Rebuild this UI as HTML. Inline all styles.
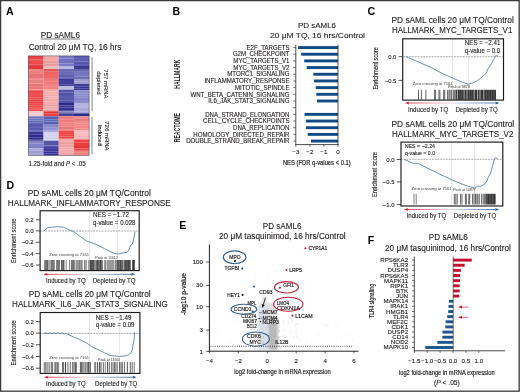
<!DOCTYPE html>
<html><head><meta charset="utf-8"><style>
html,body{margin:0;padding:0;background:#fff;}
svg{display:block;filter:blur(0.35px);}
text{font-family:"Liberation Sans", sans-serif;}
</style></head><body>
<svg width="520" height="392" viewBox="0 0 520 392" font-family='"Liberation Sans", sans-serif' fill="#231f20">
<rect x="0.00" y="0.00" width="520.00" height="392.00" fill="#ffffff"/>
<rect x="0.6" y="0.6" width="518.6" height="390.6" fill="none" stroke="#3a3a3a" stroke-width="1.3"/>
<text x="6.00" y="14.80" font-size="10.6" font-weight="bold" fill="#000">A</text>
<text x="172.60" y="15.00" font-size="10.6" font-weight="bold" fill="#000">B</text>
<text x="367.60" y="15.10" font-size="10.6" font-weight="bold" fill="#000">C</text>
<text x="6.40" y="189.20" font-size="10.6" font-weight="bold" fill="#000">D</text>
<text x="179.30" y="228.70" font-size="10.6" font-weight="bold" fill="#000">E</text>
<text x="367.80" y="243.70" font-size="10.6" font-weight="bold" fill="#000">F</text>
<text x="40.80" y="37.50" font-size="8.2" textLength="39.20" lengthAdjust="spacingAndGlyphs" stroke="#231f20" stroke-width="0.12">PD sAML6</text>
<line x1="40.80" y1="39.00" x2="80.00" y2="39.00" stroke="#231f20" stroke-width="0.6"/>
<text x="28.70" y="50.20" font-size="8.2" textLength="92.70" lengthAdjust="spacingAndGlyphs" stroke="#231f20" stroke-width="0.12">Control 20 μM TQ, 16 hrs</text>
<rect x="28.30" y="55.90" width="15.25" height="3.40" fill="#ec4448"/>
<rect x="28.30" y="59.25" width="15.25" height="1.86" fill="#ed5155"/>
<rect x="28.30" y="61.06" width="15.25" height="3.35" fill="#ed484c"/>
<rect x="28.30" y="64.36" width="15.25" height="1.69" fill="#e14044"/>
<rect x="28.30" y="66.00" width="15.25" height="3.05" fill="#e2393c"/>
<rect x="28.30" y="69.00" width="15.25" height="1.90" fill="#f18282"/>
<rect x="28.30" y="70.85" width="15.25" height="2.40" fill="#f17e7e"/>
<rect x="28.30" y="73.20" width="15.25" height="2.84" fill="#e77575"/>
<rect x="28.30" y="75.99" width="15.25" height="2.06" fill="#e67575"/>
<rect x="28.30" y="78.00" width="15.25" height="1.87" fill="#f28a8a"/>
<rect x="28.30" y="79.82" width="15.25" height="3.39" fill="#e68181"/>
<rect x="28.30" y="83.17" width="15.25" height="0.88" fill="#f28989"/>
<rect x="28.30" y="84.00" width="15.25" height="2.81" fill="#e57474"/>
<rect x="28.30" y="86.76" width="15.25" height="2.78" fill="#eb7878"/>
<rect x="28.30" y="89.49" width="15.25" height="0.86" fill="#f17f7f"/>
<rect x="28.30" y="90.30" width="15.25" height="2.62" fill="#ea4347"/>
<rect x="28.30" y="92.87" width="15.25" height="2.25" fill="#ee5256"/>
<rect x="28.30" y="95.07" width="15.25" height="2.58" fill="#ec474b"/>
<rect x="28.30" y="97.59" width="15.25" height="1.88" fill="#ec464a"/>
<rect x="28.30" y="99.42" width="15.25" height="1.86" fill="#e34044"/>
<rect x="28.30" y="101.23" width="15.25" height="2.61" fill="#eb4347"/>
<rect x="28.30" y="103.79" width="15.25" height="1.94" fill="#ed484c"/>
<rect x="28.30" y="105.68" width="15.25" height="2.11" fill="#ec474b"/>
<rect x="28.30" y="107.74" width="15.25" height="2.08" fill="#ee5256"/>
<rect x="28.30" y="109.77" width="15.25" height="1.58" fill="#ee5356"/>
<rect x="28.30" y="111.30" width="15.25" height="2.08" fill="#f5c9c9"/>
<rect x="28.30" y="113.33" width="15.25" height="1.91" fill="#f4c8c8"/>
<rect x="28.30" y="115.19" width="15.25" height="1.16" fill="#f1c5c5"/>
<rect x="28.30" y="116.30" width="15.25" height="2.10" fill="#6b76be"/>
<rect x="28.30" y="118.35" width="15.25" height="2.10" fill="#6874bd"/>
<rect x="28.30" y="120.39" width="15.25" height="1.92" fill="#5e6ab8"/>
<rect x="28.30" y="122.26" width="15.25" height="1.79" fill="#5d69b6"/>
<rect x="28.30" y="124.00" width="15.25" height="3.16" fill="#5a5aaf"/>
<rect x="28.30" y="127.11" width="15.25" height="3.10" fill="#5a5aaf"/>
<rect x="28.30" y="130.16" width="15.25" height="1.69" fill="#6464b4"/>
<rect x="28.30" y="131.80" width="15.25" height="2.55" fill="#3b3794"/>
<rect x="28.30" y="134.30" width="15.25" height="3.15" fill="#2e2a8c"/>
<rect x="28.30" y="137.41" width="15.25" height="2.05" fill="#2d2a89"/>
<rect x="28.30" y="139.41" width="15.25" height="1.34" fill="#2d2988"/>
<rect x="28.30" y="140.70" width="15.25" height="2.70" fill="#8383c6"/>
<rect x="28.30" y="143.35" width="15.25" height="2.63" fill="#8282c6"/>
<rect x="28.30" y="145.92" width="15.25" height="2.43" fill="#7f7fc4"/>
<rect x="28.30" y="148.30" width="15.25" height="2.40" fill="#a7a7dc"/>
<rect x="28.30" y="150.65" width="15.25" height="3.15" fill="#9d9dd2"/>
<rect x="28.30" y="153.75" width="15.25" height="1.60" fill="#a0a0d6"/>
<rect x="43.50" y="55.90" width="15.25" height="2.10" fill="#f6abab"/>
<rect x="43.50" y="57.95" width="15.25" height="3.00" fill="#f6aaaa"/>
<rect x="43.50" y="60.90" width="15.25" height="2.56" fill="#e99d9d"/>
<rect x="43.50" y="63.41" width="15.25" height="2.64" fill="#e89c9c"/>
<rect x="43.50" y="66.00" width="15.25" height="3.05" fill="#ebc1c1"/>
<rect x="43.50" y="69.00" width="15.25" height="2.66" fill="#e35656"/>
<rect x="43.50" y="71.61" width="15.25" height="3.34" fill="#ef6161"/>
<rect x="43.50" y="74.90" width="15.25" height="3.15" fill="#ef6767"/>
<rect x="43.50" y="78.00" width="15.25" height="1.96" fill="#eb7777"/>
<rect x="43.50" y="79.91" width="15.25" height="1.97" fill="#f07b7b"/>
<rect x="43.50" y="81.82" width="15.25" height="2.17" fill="#f07a7a"/>
<rect x="43.50" y="83.95" width="15.25" height="2.98" fill="#f18484"/>
<rect x="43.50" y="86.87" width="15.25" height="2.18" fill="#f18282"/>
<rect x="43.50" y="89.00" width="15.25" height="2.65" fill="#f6abab"/>
<rect x="43.50" y="91.60" width="15.25" height="2.67" fill="#f4acac"/>
<rect x="43.50" y="94.22" width="15.25" height="2.13" fill="#f4aaaa"/>
<rect x="43.50" y="96.30" width="15.25" height="2.33" fill="#f5adad"/>
<rect x="43.50" y="98.59" width="15.25" height="2.70" fill="#f4a9a9"/>
<rect x="43.50" y="101.24" width="15.25" height="3.09" fill="#f4aaaa"/>
<rect x="43.50" y="104.28" width="15.25" height="2.38" fill="#eaa1a1"/>
<rect x="43.50" y="106.61" width="15.25" height="2.85" fill="#f5afaf"/>
<rect x="43.50" y="109.41" width="15.25" height="1.94" fill="#e8a0a0"/>
<rect x="43.50" y="111.30" width="15.25" height="2.37" fill="#de3737"/>
<rect x="43.50" y="113.62" width="15.25" height="2.73" fill="#ed4242"/>
<rect x="43.50" y="116.30" width="15.25" height="3.06" fill="#5764af"/>
<rect x="43.50" y="119.31" width="15.25" height="2.20" fill="#5b69b6"/>
<rect x="43.50" y="121.46" width="15.25" height="2.59" fill="#5765b1"/>
<rect x="43.50" y="124.00" width="15.25" height="3.17" fill="#8a8acb"/>
<rect x="43.50" y="127.12" width="15.25" height="3.25" fill="#9494d0"/>
<rect x="43.50" y="130.32" width="15.25" height="1.53" fill="#9393d0"/>
<rect x="43.50" y="131.80" width="15.25" height="2.53" fill="#d1d1f1"/>
<rect x="43.50" y="134.28" width="15.25" height="3.21" fill="#d2d2f1"/>
<rect x="43.50" y="137.43" width="15.25" height="2.00" fill="#cbcbeb"/>
<rect x="43.50" y="139.38" width="15.25" height="1.37" fill="#d2d2f1"/>
<rect x="43.50" y="140.70" width="15.25" height="2.29" fill="#5454a7"/>
<rect x="43.50" y="142.94" width="15.25" height="2.45" fill="#5656a9"/>
<rect x="43.50" y="145.34" width="15.25" height="1.71" fill="#5d5db0"/>
<rect x="43.50" y="147.00" width="15.25" height="1.93" fill="#433fa1"/>
<rect x="43.50" y="148.88" width="15.25" height="2.55" fill="#3f3ca0"/>
<rect x="43.50" y="151.39" width="15.25" height="2.11" fill="#332f98"/>
<rect x="43.50" y="153.45" width="15.25" height="1.90" fill="#34309a"/>
<rect x="58.70" y="55.90" width="15.35" height="2.54" fill="#7878c5"/>
<rect x="58.70" y="58.39" width="15.35" height="2.62" fill="#7272c2"/>
<rect x="58.70" y="60.95" width="15.35" height="2.61" fill="#7070bf"/>
<rect x="58.70" y="63.52" width="15.35" height="2.53" fill="#7676c4"/>
<rect x="58.70" y="66.00" width="15.35" height="2.18" fill="#b5b5e3"/>
<rect x="58.70" y="68.13" width="15.35" height="0.92" fill="#b5b5e2"/>
<rect x="58.70" y="69.00" width="15.35" height="2.92" fill="#6868b5"/>
<rect x="58.70" y="71.87" width="15.35" height="3.13" fill="#6a6ab6"/>
<rect x="58.70" y="74.95" width="15.35" height="2.91" fill="#5e5eaa"/>
<rect x="58.70" y="77.81" width="15.35" height="1.24" fill="#6b6bb7"/>
<rect x="58.70" y="79.00" width="15.35" height="1.95" fill="#3b3892"/>
<rect x="58.70" y="80.90" width="15.35" height="3.30" fill="#42409b"/>
<rect x="58.70" y="84.15" width="15.35" height="1.90" fill="#47449d"/>
<rect x="58.70" y="86.00" width="15.35" height="3.75" fill="#bdbde4"/>
<rect x="58.70" y="89.70" width="15.35" height="2.95" fill="#5151a6"/>
<rect x="58.70" y="92.60" width="15.35" height="3.36" fill="#5151a5"/>
<rect x="58.70" y="95.91" width="15.35" height="2.16" fill="#5d5dad"/>
<rect x="58.70" y="98.02" width="15.35" height="2.30" fill="#5555aa"/>
<rect x="58.70" y="100.27" width="15.35" height="2.78" fill="#5151a6"/>
<rect x="58.70" y="103.00" width="15.35" height="2.38" fill="#2e2a8c"/>
<rect x="58.70" y="105.33" width="15.35" height="2.28" fill="#3a3694"/>
<rect x="58.70" y="107.56" width="15.35" height="2.79" fill="#343091"/>
<rect x="58.70" y="110.31" width="15.35" height="1.04" fill="#2e2a8b"/>
<rect x="58.70" y="111.30" width="15.35" height="2.05" fill="#8282c1"/>
<rect x="58.70" y="113.30" width="15.35" height="1.91" fill="#413e98"/>
<rect x="58.70" y="115.16" width="15.35" height="1.19" fill="#373393"/>
<rect x="58.70" y="116.30" width="15.35" height="3.44" fill="#f07c7c"/>
<rect x="58.70" y="119.69" width="15.35" height="2.55" fill="#f07c7c"/>
<rect x="58.70" y="122.18" width="15.35" height="1.96" fill="#f18181"/>
<rect x="58.70" y="124.09" width="15.35" height="2.34" fill="#f18080"/>
<rect x="58.70" y="126.38" width="15.35" height="3.31" fill="#ea7777"/>
<rect x="58.70" y="129.63" width="15.35" height="1.42" fill="#f17f7f"/>
<rect x="58.70" y="131.00" width="15.35" height="3.15" fill="#ef4c4c"/>
<rect x="58.70" y="134.10" width="15.35" height="2.38" fill="#ee4949"/>
<rect x="58.70" y="136.43" width="15.35" height="2.11" fill="#ee4747"/>
<rect x="58.70" y="138.49" width="15.35" height="0.96" fill="#ef5353"/>
<rect x="58.70" y="139.40" width="15.35" height="2.07" fill="#f5a7a7"/>
<rect x="58.70" y="141.42" width="15.35" height="2.84" fill="#ec9f9f"/>
<rect x="58.70" y="144.22" width="15.35" height="3.37" fill="#efa1a1"/>
<rect x="58.70" y="147.53" width="15.35" height="2.11" fill="#f5a6a6"/>
<rect x="58.70" y="149.60" width="15.35" height="2.66" fill="#f6aaaa"/>
<rect x="58.70" y="152.20" width="15.35" height="3.15" fill="#f2a3a3"/>
<rect x="74.00" y="55.90" width="15.15" height="2.98" fill="#5a5ab2"/>
<rect x="74.00" y="58.83" width="15.15" height="2.71" fill="#5b5bb2"/>
<rect x="74.00" y="61.49" width="15.15" height="2.56" fill="#5656af"/>
<rect x="74.00" y="64.00" width="15.15" height="2.05" fill="#5f5fb4"/>
<rect x="74.00" y="66.00" width="15.15" height="3.05" fill="#3b3a8d"/>
<rect x="74.00" y="69.00" width="15.15" height="2.82" fill="#6767b1"/>
<rect x="74.00" y="71.77" width="15.15" height="2.21" fill="#7575be"/>
<rect x="74.00" y="73.93" width="15.15" height="2.40" fill="#7878c0"/>
<rect x="74.00" y="76.29" width="15.15" height="2.76" fill="#6c6cb9"/>
<rect x="74.00" y="79.00" width="15.15" height="2.64" fill="#9b9bcf"/>
<rect x="74.00" y="81.59" width="15.15" height="2.46" fill="#9b9bd0"/>
<rect x="74.00" y="84.00" width="15.15" height="2.32" fill="#404099"/>
<rect x="74.00" y="86.27" width="15.15" height="2.09" fill="#393995"/>
<rect x="74.00" y="88.31" width="15.15" height="2.04" fill="#393995"/>
<rect x="74.00" y="90.30" width="15.15" height="3.12" fill="#9090d0"/>
<rect x="74.00" y="93.37" width="15.15" height="2.42" fill="#8787cb"/>
<rect x="74.00" y="95.74" width="15.15" height="2.13" fill="#8c8cce"/>
<rect x="74.00" y="97.82" width="15.15" height="2.19" fill="#8484c6"/>
<rect x="74.00" y="99.96" width="15.15" height="3.09" fill="#8c8cce"/>
<rect x="74.00" y="103.00" width="15.15" height="3.02" fill="#b3b3e2"/>
<rect x="74.00" y="105.97" width="15.15" height="2.06" fill="#b8b8e4"/>
<rect x="74.00" y="107.98" width="15.15" height="3.37" fill="#a9a9d6"/>
<rect x="74.00" y="111.30" width="15.15" height="2.05" fill="#a4a4da"/>
<rect x="74.00" y="113.30" width="15.15" height="3.05" fill="#2f2b8d"/>
<rect x="74.00" y="116.30" width="15.15" height="2.48" fill="#f48989"/>
<rect x="74.00" y="118.73" width="15.15" height="2.22" fill="#e57a7a"/>
<rect x="74.00" y="120.91" width="15.15" height="2.35" fill="#f48d8d"/>
<rect x="74.00" y="123.21" width="15.15" height="2.04" fill="#f38686"/>
<rect x="74.00" y="125.20" width="15.15" height="3.23" fill="#f38585"/>
<rect x="74.00" y="128.39" width="15.15" height="1.96" fill="#f38585"/>
<rect x="74.00" y="130.30" width="15.15" height="2.37" fill="#f5b7b7"/>
<rect x="74.00" y="132.62" width="15.15" height="3.33" fill="#f6bbbb"/>
<rect x="74.00" y="135.90" width="15.15" height="3.55" fill="#f6b9b9"/>
<rect x="74.00" y="139.40" width="15.15" height="3.31" fill="#ee4848"/>
<rect x="74.00" y="142.66" width="15.15" height="3.40" fill="#ed3e3e"/>
<rect x="74.00" y="146.00" width="15.15" height="2.50" fill="#e63838"/>
<rect x="74.00" y="148.46" width="15.15" height="2.39" fill="#ee4848"/>
<rect x="74.00" y="150.80" width="15.15" height="2.13" fill="#f18585"/>
<rect x="74.00" y="152.88" width="15.15" height="2.47" fill="#f18383"/>
<rect x="28.30" y="55.9" width="60.80" height="99.4" fill="none" stroke="#2a2438" stroke-width="0.6" stroke-opacity="0.75"/>
<line x1="92.10" y1="57.40" x2="92.10" y2="111.30" stroke="#555" stroke-width="0.7"/>
<line x1="92.00" y1="117.00" x2="92.00" y2="154.00" stroke="#555" stroke-width="0.7"/>
<text x="104.30" y="83.90" font-size="6.0" text-anchor="middle" textLength="29.10" lengthAdjust="spacingAndGlyphs" transform="rotate(90 104.30 83.90)" stroke="#231f20" stroke-width="0.12">757 mRNA</text>
<text x="97.00" y="82.90" font-size="6.0" text-anchor="middle" textLength="23.30" lengthAdjust="spacingAndGlyphs" transform="rotate(90 97.00 82.90)" stroke="#231f20" stroke-width="0.12">depleted</text>
<text x="104.50" y="135.90" font-size="6.0" text-anchor="middle" textLength="29.40" lengthAdjust="spacingAndGlyphs" transform="rotate(90 104.50 135.90)" stroke="#231f20" stroke-width="0.12">726 mRNA</text>
<text x="97.70" y="135.40" font-size="6.0" text-anchor="middle" textLength="20.70" lengthAdjust="spacingAndGlyphs" transform="rotate(90 97.70 135.40)" stroke="#231f20" stroke-width="0.12">induced</text>
<text x="28.50" y="165.50" font-size="6.3" textLength="57.10" lengthAdjust="spacingAndGlyphs" stroke="#231f20" stroke-width="0.12">1.25-fold and <tspan font-style="italic">P</tspan> &lt; .05</text>
<text x="317.00" y="28.30" font-size="7.6" text-anchor="middle" textLength="38.10" lengthAdjust="spacingAndGlyphs" stroke="#231f20" stroke-width="0.12">PD sAML6</text>
<text x="270.00" y="38.30" font-size="7.6" textLength="95.00" lengthAdjust="spacingAndGlyphs" stroke="#231f20" stroke-width="0.12">20 μM TQ, 16 hrs/Control</text>
<line x1="293.20" y1="47.55" x2="295.80" y2="47.55" stroke="#231f20" stroke-width="0.6"/>
<rect x="298.10" y="46.10" width="39.90" height="2.90" fill="#124b84"/>
<text x="289.50" y="49.75" font-size="6.7" text-anchor="end" textLength="42.94" lengthAdjust="spacingAndGlyphs" stroke="#231f20" stroke-width="0.12">E2F<tspan dy="-0.8">_</tspan><tspan dy="0.8">TARGETS</tspan></text>
<line x1="293.20" y1="54.23" x2="295.80" y2="54.23" stroke="#231f20" stroke-width="0.6"/>
<rect x="301.20" y="52.78" width="36.80" height="2.90" fill="#124b84"/>
<text x="289.50" y="56.43" font-size="6.7" text-anchor="end" textLength="56.61" lengthAdjust="spacingAndGlyphs" stroke="#231f20" stroke-width="0.12">G2M<tspan dy="-0.8">_</tspan><tspan dy="0.8">CHECKPOINT</tspan></text>
<line x1="293.20" y1="60.91" x2="295.80" y2="60.91" stroke="#231f20" stroke-width="0.6"/>
<rect x="304.20" y="59.46" width="33.80" height="2.90" fill="#124b84"/>
<text x="289.50" y="63.11" font-size="6.7" text-anchor="end" textLength="56.16" lengthAdjust="spacingAndGlyphs" stroke="#231f20" stroke-width="0.12">MYC<tspan dy="-0.8">_</tspan><tspan dy="0.8">TARGETS</tspan><tspan dy="-0.8">_</tspan><tspan dy="0.8">V1</tspan></text>
<line x1="293.20" y1="67.59" x2="295.80" y2="67.59" stroke="#231f20" stroke-width="0.6"/>
<rect x="306.70" y="66.14" width="31.30" height="2.90" fill="#124b84"/>
<text x="289.50" y="69.79" font-size="6.7" text-anchor="end" textLength="56.16" lengthAdjust="spacingAndGlyphs" stroke="#231f20" stroke-width="0.12">MYC<tspan dy="-0.8">_</tspan><tspan dy="0.8">TARGETS</tspan><tspan dy="-0.8">_</tspan><tspan dy="0.8">V2</tspan></text>
<line x1="293.20" y1="74.27" x2="295.80" y2="74.27" stroke="#231f20" stroke-width="0.6"/>
<rect x="313.40" y="72.82" width="24.60" height="2.90" fill="#124b84"/>
<text x="289.50" y="76.47" font-size="6.7" text-anchor="end" textLength="62.26" lengthAdjust="spacingAndGlyphs" stroke="#231f20" stroke-width="0.12">MTORC1<tspan dy="-0.8">_</tspan><tspan dy="0.8">SIGNALING</tspan></text>
<line x1="293.20" y1="80.95" x2="295.80" y2="80.95" stroke="#231f20" stroke-width="0.6"/>
<rect x="313.90" y="79.50" width="24.10" height="2.90" fill="#124b84"/>
<text x="289.50" y="83.15" font-size="6.7" text-anchor="end" textLength="85.08" lengthAdjust="spacingAndGlyphs" stroke="#231f20" stroke-width="0.12">INFLAMMATORY<tspan dy="-0.8">_</tspan><tspan dy="0.8">RESPONSE</tspan></text>
<line x1="293.20" y1="87.63" x2="295.80" y2="87.63" stroke="#231f20" stroke-width="0.6"/>
<rect x="315.70" y="86.18" width="22.30" height="2.90" fill="#124b84"/>
<text x="289.50" y="89.83" font-size="6.7" text-anchor="end" textLength="54.46" lengthAdjust="spacingAndGlyphs" stroke="#231f20" stroke-width="0.12">MITOTIC<tspan dy="-0.8">_</tspan><tspan dy="0.8">SPINDLE</tspan></text>
<line x1="293.20" y1="94.31" x2="295.80" y2="94.31" stroke="#231f20" stroke-width="0.6"/>
<rect x="316.30" y="92.86" width="21.70" height="2.90" fill="#124b84"/>
<text x="289.50" y="96.51" font-size="6.7" text-anchor="end" textLength="99.09" lengthAdjust="spacingAndGlyphs" stroke="#231f20" stroke-width="0.12">WNT<tspan dy="-0.8">_</tspan><tspan dy="0.8">BETA</tspan><tspan dy="-0.8">_</tspan><tspan dy="0.8">CATENIN</tspan><tspan dy="-0.8">_</tspan><tspan dy="0.8">SIGNALING</tspan></text>
<line x1="293.20" y1="100.99" x2="295.80" y2="100.99" stroke="#231f20" stroke-width="0.6"/>
<rect x="317.10" y="99.54" width="20.90" height="2.90" fill="#124b84"/>
<text x="289.50" y="103.19" font-size="6.7" text-anchor="end" textLength="81.14" lengthAdjust="spacingAndGlyphs" stroke="#231f20" stroke-width="0.12">IL6<tspan dy="-0.8">_</tspan><tspan dy="0.8">JAK</tspan><tspan dy="-0.8">_</tspan><tspan dy="0.8">STAT3</tspan><tspan dy="-0.8">_</tspan><tspan dy="0.8">SIGNALING</tspan></text>
<line x1="293.20" y1="107.67" x2="295.80" y2="107.67" stroke="#231f20" stroke-width="0.6"/>
<line x1="293.20" y1="114.35" x2="295.80" y2="114.35" stroke="#231f20" stroke-width="0.6"/>
<rect x="304.50" y="112.90" width="33.50" height="2.90" fill="#124b84"/>
<text x="289.50" y="116.55" font-size="6.7" text-anchor="end" textLength="84.29" lengthAdjust="spacingAndGlyphs" stroke="#231f20" stroke-width="0.12">DNA<tspan dy="-0.8">_</tspan><tspan dy="0.8">STRAND</tspan><tspan dy="-0.8">_</tspan><tspan dy="0.8">ELONGATION</tspan></text>
<line x1="293.20" y1="121.03" x2="295.80" y2="121.03" stroke="#231f20" stroke-width="0.6"/>
<rect x="305.90" y="119.58" width="32.10" height="2.90" fill="#124b84"/>
<text x="289.50" y="123.23" font-size="6.7" text-anchor="end" textLength="86.45" lengthAdjust="spacingAndGlyphs" stroke="#231f20" stroke-width="0.12">CELL<tspan dy="-0.8">_</tspan><tspan dy="0.8">CYCLE</tspan><tspan dy="-0.8">_</tspan><tspan dy="0.8">CHECKPOINTS</tspan></text>
<line x1="293.20" y1="127.71" x2="295.80" y2="127.71" stroke="#231f20" stroke-width="0.6"/>
<rect x="305.90" y="126.26" width="32.10" height="2.90" fill="#124b84"/>
<text x="289.50" y="129.91" font-size="6.7" text-anchor="end" textLength="56.50" lengthAdjust="spacingAndGlyphs" stroke="#231f20" stroke-width="0.12">DNA<tspan dy="-0.8">_</tspan><tspan dy="0.8">REPLICATION</tspan></text>
<line x1="293.20" y1="134.39" x2="295.80" y2="134.39" stroke="#231f20" stroke-width="0.6"/>
<rect x="307.70" y="132.94" width="30.30" height="2.90" fill="#124b84"/>
<text x="289.50" y="136.59" font-size="6.7" text-anchor="end" textLength="96.15" lengthAdjust="spacingAndGlyphs" stroke="#231f20" stroke-width="0.12">HOMOLOGY<tspan dy="-0.8">_</tspan><tspan dy="0.8">DIRECTED</tspan><tspan dy="-0.8">_</tspan><tspan dy="0.8">REPAIR</tspan></text>
<line x1="293.20" y1="141.07" x2="295.80" y2="141.07" stroke="#231f20" stroke-width="0.6"/>
<rect x="311.00" y="139.62" width="27.00" height="2.90" fill="#124b84"/>
<text x="289.50" y="143.27" font-size="6.7" text-anchor="end" textLength="103.28" lengthAdjust="spacingAndGlyphs" stroke="#231f20" stroke-width="0.12">DOUBLE<tspan dy="-0.8">_</tspan><tspan dy="0.8">STRAND</tspan><tspan dy="-0.8">_</tspan><tspan dy="0.8">BREAK</tspan><tspan dy="-0.8">_</tspan><tspan dy="0.8">REPAIR</tspan></text>
<line x1="295.80" y1="44.60" x2="295.80" y2="144.90" stroke="#231f20" stroke-width="0.8"/>
<line x1="338.00" y1="44.60" x2="338.00" y2="144.90" stroke="#231f20" stroke-width="0.8"/>
<line x1="295.40" y1="144.60" x2="338.40" y2="144.60" stroke="#231f20" stroke-width="0.8"/>
<line x1="295.80" y1="144.60" x2="295.80" y2="146.80" stroke="#231f20" stroke-width="0.6"/>
<text x="295.80" y="154.00" font-size="6.2" text-anchor="middle" stroke="#231f20" stroke-width="0.12">−3</text>
<line x1="309.90" y1="144.60" x2="309.90" y2="146.80" stroke="#231f20" stroke-width="0.6"/>
<text x="309.90" y="154.00" font-size="6.2" text-anchor="middle" stroke="#231f20" stroke-width="0.12">−2</text>
<line x1="323.90" y1="144.60" x2="323.90" y2="146.80" stroke="#231f20" stroke-width="0.6"/>
<text x="323.90" y="154.00" font-size="6.2" text-anchor="middle" stroke="#231f20" stroke-width="0.12">−1</text>
<line x1="338.00" y1="144.60" x2="338.00" y2="146.80" stroke="#231f20" stroke-width="0.6"/>
<text x="338.00" y="154.00" font-size="6.2" text-anchor="middle" stroke="#231f20" stroke-width="0.12">0</text>
<text x="316.80" y="165.00" font-size="7.2" text-anchor="middle" textLength="67.80" lengthAdjust="spacingAndGlyphs" stroke="#231f20" stroke-width="0.2">NES (FDR q-values &lt; 0.1)</text>
<text x="180.30" y="74.20" font-size="8.2" text-anchor="middle" font-weight="bold" textLength="29.10" lengthAdjust="spacingAndGlyphs" transform="rotate(-90 180.30 74.20)">HALLMARK</text>
<text x="180.30" y="127.75" font-size="8.2" text-anchor="middle" font-weight="bold" textLength="29.10" lengthAdjust="spacingAndGlyphs" transform="rotate(-90 180.30 127.75)">REACTOME</text>
<text x="391.50" y="23.30" font-size="8.35" textLength="122.30" lengthAdjust="spacingAndGlyphs" stroke="#231f20" stroke-width="0.12">PD sAML cells 20 μM TQ/Control</text>
<text x="392.00" y="33.30" font-size="8.9" textLength="120.30" lengthAdjust="spacingAndGlyphs" stroke="#231f20" stroke-width="0.12">HALLMARK_MYC_TARGETS_V1</text>
<text x="378.30" y="68.30" font-size="7.3" text-anchor="middle" textLength="42.30" lengthAdjust="spacingAndGlyphs" transform="rotate(-90 378.30 68.30)" stroke="#231f20" stroke-width="0.12">Enrichment score</text>
<line x1="402.70" y1="56.70" x2="503.50" y2="56.70" stroke="#444" stroke-width="0.7" stroke-dasharray="0.7 0.85"/>
<line x1="452.50" y1="38.80" x2="452.50" y2="100.10" stroke="#c4cad4" stroke-width="0.5"/>
<line x1="468.70" y1="38.80" x2="468.70" y2="100.10" stroke="#c4cad4" stroke-width="0.5"/>
<rect x="455.50" y="89.80" width="40.50" height="10.00" fill="#383838"/>
<line x1="418.50" y1="89.80" x2="418.50" y2="99.80" stroke="#333" stroke-width="0.75"/>
<line x1="421.40" y1="89.80" x2="421.40" y2="99.80" stroke="#333" stroke-width="0.75"/>
<line x1="425.90" y1="89.80" x2="425.90" y2="99.80" stroke="#333" stroke-width="0.75"/>
<line x1="434.60" y1="89.80" x2="434.60" y2="99.80" stroke="#333" stroke-width="0.75"/>
<line x1="435.60" y1="89.80" x2="435.60" y2="99.80" stroke="#333" stroke-width="0.75"/>
<line x1="438.90" y1="89.80" x2="438.90" y2="99.80" stroke="#333" stroke-width="0.75"/>
<line x1="439.90" y1="89.80" x2="439.90" y2="99.80" stroke="#333" stroke-width="0.75"/>
<line x1="443.70" y1="89.80" x2="443.70" y2="99.80" stroke="#333" stroke-width="0.75"/>
<line x1="444.70" y1="89.80" x2="444.70" y2="99.80" stroke="#333" stroke-width="0.75"/>
<line x1="447.60" y1="89.80" x2="447.60" y2="99.80" stroke="#333" stroke-width="0.75"/>
<line x1="449.00" y1="89.80" x2="449.00" y2="99.80" stroke="#333" stroke-width="0.75"/>
<line x1="450.00" y1="89.80" x2="450.00" y2="99.80" stroke="#333" stroke-width="0.75"/>
<line x1="451.40" y1="89.80" x2="451.40" y2="99.80" stroke="#333" stroke-width="0.75"/>
<line x1="453.30" y1="89.80" x2="453.30" y2="99.80" stroke="#333" stroke-width="0.75"/>
<line x1="454.30" y1="89.80" x2="454.30" y2="99.80" stroke="#333" stroke-width="0.75"/>
<line x1="456.20" y1="89.80" x2="456.20" y2="99.80" stroke="#333" stroke-width="0.75"/>
<line x1="457.70" y1="89.80" x2="457.70" y2="99.80" stroke="#333" stroke-width="0.75"/>
<line x1="459.10" y1="89.80" x2="459.10" y2="99.80" stroke="#333" stroke-width="0.75"/>
<line x1="460.60" y1="89.80" x2="460.60" y2="99.80" stroke="#333" stroke-width="0.75"/>
<line x1="457.40" y1="89.80" x2="457.40" y2="99.80" stroke="#fff" stroke-width="0.6"/>
<line x1="464.10" y1="89.80" x2="464.10" y2="99.80" stroke="#fff" stroke-width="0.6"/>
<line x1="467.00" y1="89.80" x2="467.00" y2="99.80" stroke="#fff" stroke-width="0.6"/>
<line x1="474.20" y1="89.80" x2="474.20" y2="99.80" stroke="#fff" stroke-width="0.6"/>
<line x1="477.60" y1="89.80" x2="477.60" y2="99.80" stroke="#fff" stroke-width="0.6"/>
<line x1="480.00" y1="89.80" x2="480.00" y2="99.80" stroke="#fff" stroke-width="0.6"/>
<line x1="483.80" y1="89.80" x2="483.80" y2="99.80" stroke="#fff" stroke-width="0.6"/>
<line x1="459.80" y1="89.80" x2="459.80" y2="99.80" stroke="#777" stroke-width="0.5"/>
<line x1="461.50" y1="89.80" x2="461.50" y2="99.80" stroke="#777" stroke-width="0.5"/>
<line x1="469.50" y1="89.80" x2="469.50" y2="99.80" stroke="#777" stroke-width="0.5"/>
<line x1="471.80" y1="89.80" x2="471.80" y2="99.80" stroke="#777" stroke-width="0.5"/>
<line x1="486.50" y1="89.80" x2="486.50" y2="99.80" stroke="#777" stroke-width="0.5"/>
<line x1="489.00" y1="89.80" x2="489.00" y2="99.80" stroke="#777" stroke-width="0.5"/>
<line x1="491.50" y1="89.80" x2="491.50" y2="99.80" stroke="#777" stroke-width="0.5"/>
<line x1="494.00" y1="89.80" x2="494.00" y2="99.80" stroke="#777" stroke-width="0.5"/>
<polyline points="406.20,56.70 430.00,67.00 440.00,72.30 452.50,78.10 462.50,82.30 468.10,84.00 472.50,83.10 477.50,80.60 481.30,77.50 484.40,75.00 486.30,73.00 488.10,68.80 491.30,63.80 495.00,56.90 496.30,55.30 498.10,56.30" fill="none" stroke="#4a6f9c" stroke-width="0.8" stroke-linejoin="round"/>
<text x="412.70" y="85.20" font-size="4.1" textLength="40.00" lengthAdjust="spacingAndGlyphs" fill="#3a3a3a" stroke="none">Zero crossing at 7161</text>
<text x="448.00" y="88.40" font-size="4.1" textLength="22.00" lengthAdjust="spacingAndGlyphs" fill="#3a3a3a" stroke="none">Peak at 9878</text>
<text x="464.80" y="45.00" font-size="6.6" textLength="35.60" lengthAdjust="spacingAndGlyphs" stroke="#231f20" stroke-width="0.12">NES = −2.41</text>
<text x="464.80" y="52.80" font-size="6.6" textLength="35.40" lengthAdjust="spacingAndGlyphs" stroke="#231f20" stroke-width="0.12">q-value = 0.0</text>
<rect x="402.70" y="38.80" width="100.80" height="61.30" fill="none" stroke="#1a1a1a" stroke-width="1.15"/>
<line x1="398.50" y1="56.70" x2="402.70" y2="56.70" stroke="#231f20" stroke-width="0.75"/>
<text x="396.30" y="58.80" font-size="5.8" text-anchor="end" stroke="#231f20" stroke-width="0.12">0.0</text>
<line x1="398.50" y1="80.40" x2="402.70" y2="80.40" stroke="#231f20" stroke-width="0.75"/>
<text x="396.30" y="82.50" font-size="5.8" text-anchor="end" stroke="#231f20" stroke-width="0.12">−0.5</text>
<defs><linearGradient id="g1" x1="405.0" y1="0" x2="499.5" y2="0" gradientUnits="userSpaceOnUse"><stop offset="0" stop-color="#d0243a"/><stop offset="0.47" stop-color="#f0d6de"/><stop offset="0.53" stop-color="#c6d2e6"/><stop offset="1" stop-color="#2f5f9b"/></linearGradient></defs>
<rect x="407.00" y="102.55" width="90.50" height="0.9" fill="url(#g1)"/>
<path d="M405.00,103.00 L409.20,101.55 L408.40,103.00 L409.20,104.45 Z" fill="#d0243a"/>
<path d="M499.50,103.00 L495.30,101.55 L496.10,103.00 L495.30,104.45 Z" fill="#2f5f9b"/>
<text x="408.00" y="112.30" font-size="6.6" textLength="40.20" lengthAdjust="spacingAndGlyphs" stroke="#231f20" stroke-width="0.12">Induced by TQ</text>
<text x="455.40" y="112.30" font-size="6.6" textLength="42.30" lengthAdjust="spacingAndGlyphs" stroke="#231f20" stroke-width="0.12">Depleted by TQ</text>
<text x="391.50" y="127.00" font-size="8.35" textLength="122.70" lengthAdjust="spacingAndGlyphs" stroke="#231f20" stroke-width="0.12">PD sAML cells 20 μM TQ/Control</text>
<text x="392.00" y="136.50" font-size="8.9" textLength="121.40" lengthAdjust="spacingAndGlyphs" stroke="#231f20" stroke-width="0.12">HALLMARK_MYC_TARGETS_V2</text>
<text x="377.40" y="174.40" font-size="7.3" text-anchor="middle" textLength="45.00" lengthAdjust="spacingAndGlyphs" transform="rotate(-90 377.40 174.40)" stroke="#231f20" stroke-width="0.12">Enrichment score</text>
<line x1="401.00" y1="159.30" x2="502.80" y2="159.30" stroke="#444" stroke-width="0.7" stroke-dasharray="0.7 0.85"/>
<line x1="451.70" y1="142.10" x2="451.70" y2="206.00" stroke="#c4cad4" stroke-width="0.5"/>
<line x1="474.50" y1="142.10" x2="474.50" y2="206.00" stroke="#c4cad4" stroke-width="0.5"/>
<rect x="485.40" y="193.80" width="10.20" height="10.70" fill="#353535"/>
<line x1="414.00" y1="193.80" x2="414.00" y2="204.50" stroke="#333" stroke-width="0.6"/>
<line x1="416.20" y1="193.80" x2="416.20" y2="204.50" stroke="#333" stroke-width="0.6"/>
<line x1="454.30" y1="193.80" x2="454.30" y2="204.50" stroke="#333" stroke-width="0.75"/>
<line x1="455.80" y1="193.80" x2="455.80" y2="204.50" stroke="#333" stroke-width="0.75"/>
<line x1="457.20" y1="193.80" x2="457.20" y2="204.50" stroke="#333" stroke-width="0.75"/>
<line x1="460.60" y1="193.80" x2="460.60" y2="204.50" stroke="#333" stroke-width="0.75"/>
<line x1="462.00" y1="193.80" x2="462.00" y2="204.50" stroke="#333" stroke-width="0.75"/>
<line x1="465.40" y1="193.80" x2="465.40" y2="204.50" stroke="#333" stroke-width="0.75"/>
<line x1="466.30" y1="193.80" x2="466.30" y2="204.50" stroke="#333" stroke-width="0.75"/>
<line x1="468.80" y1="193.80" x2="468.80" y2="204.50" stroke="#333" stroke-width="0.75"/>
<line x1="469.70" y1="193.80" x2="469.70" y2="204.50" stroke="#333" stroke-width="0.75"/>
<line x1="472.60" y1="193.80" x2="472.60" y2="204.50" stroke="#333" stroke-width="0.75"/>
<line x1="474.00" y1="193.80" x2="474.00" y2="204.50" stroke="#333" stroke-width="0.75"/>
<line x1="475.50" y1="193.80" x2="475.50" y2="204.50" stroke="#333" stroke-width="0.75"/>
<line x1="476.90" y1="193.80" x2="476.90" y2="204.50" stroke="#333" stroke-width="0.75"/>
<line x1="477.90" y1="193.80" x2="477.90" y2="204.50" stroke="#333" stroke-width="0.75"/>
<line x1="479.30" y1="193.80" x2="479.30" y2="204.50" stroke="#333" stroke-width="0.75"/>
<line x1="481.70" y1="193.80" x2="481.70" y2="204.50" stroke="#333" stroke-width="0.75"/>
<line x1="483.20" y1="193.80" x2="483.20" y2="204.50" stroke="#333" stroke-width="0.75"/>
<line x1="484.60" y1="193.80" x2="484.60" y2="204.50" stroke="#333" stroke-width="0.75"/>
<line x1="487.00" y1="193.80" x2="487.00" y2="204.50" stroke="#bbb" stroke-width="0.4"/>
<line x1="489.90" y1="193.80" x2="489.90" y2="204.50" stroke="#bbb" stroke-width="0.4"/>
<line x1="492.80" y1="193.80" x2="492.80" y2="204.50" stroke="#bbb" stroke-width="0.4"/>
<polyline points="404.30,159.50 413.50,163.30 417.30,163.30 419.20,164.00 440.00,174.30 451.90,179.80 462.50,184.30 471.30,187.30 474.40,188.00 477.50,186.40 481.30,186.00 484.40,184.30 486.90,181.00 488.10,177.60 490.00,174.30 491.30,170.80 492.50,165.80 493.50,162.00 494.40,158.90 495.60,157.60 497.50,158.90" fill="none" stroke="#4a6f9c" stroke-width="0.8" stroke-linejoin="round"/>
<text x="411.60" y="189.60" font-size="4.1" textLength="40.00" lengthAdjust="spacingAndGlyphs" fill="#3a3a3a" stroke="none">Zero crossing at 7161</text>
<text x="453.30" y="191.20" font-size="4.1" textLength="22.50" lengthAdjust="spacingAndGlyphs" fill="#3a3a3a" stroke="none">Peak at 10877</text>
<text x="404.80" y="148.40" font-size="5.6" textLength="30.20" lengthAdjust="spacingAndGlyphs" stroke="#231f20" stroke-width="0.12">NES = −2.24</text>
<text x="405.00" y="154.60" font-size="5.6" textLength="30.00" lengthAdjust="spacingAndGlyphs" stroke="#231f20" stroke-width="0.12">q-value = 0.0</text>
<rect x="401.00" y="142.10" width="101.80" height="63.90" fill="none" stroke="#1a1a1a" stroke-width="1.15"/>
<line x1="396.80" y1="159.50" x2="401.00" y2="159.50" stroke="#231f20" stroke-width="0.75"/>
<text x="394.60" y="161.60" font-size="6.0" text-anchor="end" stroke="#231f20" stroke-width="0.12">0.0</text>
<line x1="396.80" y1="181.90" x2="401.00" y2="181.90" stroke="#231f20" stroke-width="0.75"/>
<text x="394.60" y="184.00" font-size="6.0" text-anchor="end" stroke="#231f20" stroke-width="0.12">−0.5</text>
<line x1="396.80" y1="204.50" x2="401.00" y2="204.50" stroke="#231f20" stroke-width="0.75"/>
<text x="394.60" y="206.60" font-size="6.0" text-anchor="end" stroke="#231f20" stroke-width="0.12">−1.0</text>
<defs><linearGradient id="g2" x1="404.0" y1="0" x2="499.2" y2="0" gradientUnits="userSpaceOnUse"><stop offset="0" stop-color="#d0243a"/><stop offset="0.47" stop-color="#f0d6de"/><stop offset="0.53" stop-color="#c6d2e6"/><stop offset="1" stop-color="#2f5f9b"/></linearGradient></defs>
<rect x="406.00" y="209.05" width="91.20" height="0.9" fill="url(#g2)"/>
<path d="M404.00,209.50 L408.20,208.05 L407.40,209.50 L408.20,210.95 Z" fill="#d0243a"/>
<path d="M499.20,209.50 L495.00,208.05 L495.80,209.50 L495.00,210.95 Z" fill="#2f5f9b"/>
<text x="406.70" y="218.30" font-size="6.6" textLength="39.50" lengthAdjust="spacingAndGlyphs" stroke="#231f20" stroke-width="0.12">Induced by TQ</text>
<text x="453.80" y="218.30" font-size="6.6" textLength="42.40" lengthAdjust="spacingAndGlyphs" stroke="#231f20" stroke-width="0.12">Depleted by TQ</text>
<text x="27.70" y="195.80" font-size="8.35" textLength="123.20" lengthAdjust="spacingAndGlyphs" stroke="#231f20" stroke-width="0.12">PD sAML cells 20 μM TQ/Control</text>
<text x="7.80" y="205.60" font-size="8.8" textLength="163.00" lengthAdjust="spacingAndGlyphs" stroke="#231f20" stroke-width="0.12">HALLMARK_INFLAMMATORY_RESPONSE</text>
<text x="16.40" y="240.70" font-size="7.3" text-anchor="middle" textLength="44.50" lengthAdjust="spacingAndGlyphs" transform="rotate(-90 16.40 240.70)" stroke="#231f20" stroke-width="0.12">Enrichment score</text>
<line x1="40.10" y1="231.00" x2="139.20" y2="231.00" stroke="#444" stroke-width="0.7" stroke-dasharray="0.7 0.85"/>
<line x1="89.60" y1="210.75" x2="89.60" y2="270.60" stroke="#c4cad4" stroke-width="0.5"/>
<line x1="117.60" y1="210.75" x2="117.60" y2="270.60" stroke="#c4cad4" stroke-width="0.5"/>
<rect x="44.10" y="260.00" width="3.80" height="10.30" fill="#7a7a7a"/>
<rect x="47.90" y="260.00" width="3.10" height="10.30" fill="#acacac"/>
<rect x="51.80" y="260.00" width="2.90" height="10.30" fill="#777"/>
<rect x="56.10" y="260.00" width="3.90" height="10.30" fill="#7a7a7a"/>
<rect x="61.20" y="260.00" width="3.40" height="10.30" fill="#808080"/>
<rect x="70.80" y="260.00" width="3.20" height="10.30" fill="#777"/>
<rect x="75.40" y="260.00" width="3.80" height="10.30" fill="#9a9a9a"/>
<rect x="80.20" y="260.00" width="2.40" height="10.30" fill="#858585"/>
<rect x="85.00" y="260.00" width="2.10" height="10.30" fill="#aaa"/>
<rect x="88.10" y="260.00" width="1.70" height="10.30" fill="#999"/>
<rect x="89.80" y="260.00" width="4.60" height="10.30" fill="#5a5a5a"/>
<rect x="94.60" y="260.00" width="0.70" height="10.30" fill="#bbb"/>
<rect x="95.30" y="260.00" width="7.50" height="10.30" fill="#6a6a6a"/>
<rect x="104.20" y="260.00" width="2.00" height="10.30" fill="#888"/>
<rect x="106.60" y="260.00" width="3.40" height="10.30" fill="#9a9a9a"/>
<rect x="110.00" y="260.00" width="4.00" height="10.30" fill="#9a9a9a"/>
<rect x="114.60" y="260.00" width="2.30" height="10.30" fill="#888"/>
<rect x="116.90" y="260.00" width="6.70" height="10.30" fill="#6a6a6a"/>
<rect x="124.10" y="260.00" width="6.70" height="10.30" fill="#5a5a5a"/>
<rect x="132.20" y="260.00" width="2.60" height="10.30" fill="#3a3a3a"/>
<line x1="47.20" y1="260.00" x2="47.20" y2="270.30" stroke="#333" stroke-width="0.6"/>
<line x1="51.50" y1="260.00" x2="51.50" y2="270.30" stroke="#333" stroke-width="0.6"/>
<line x1="61.40" y1="260.00" x2="61.40" y2="270.30" stroke="#333" stroke-width="0.6"/>
<line x1="63.40" y1="260.00" x2="63.40" y2="270.30" stroke="#333" stroke-width="0.6"/>
<line x1="66.20" y1="260.00" x2="66.20" y2="270.30" stroke="#333" stroke-width="0.6"/>
<line x1="69.40" y1="260.00" x2="69.40" y2="270.30" stroke="#333" stroke-width="0.6"/>
<line x1="74.40" y1="260.00" x2="74.40" y2="270.30" stroke="#333" stroke-width="0.6"/>
<line x1="79.50" y1="260.00" x2="79.50" y2="270.30" stroke="#333" stroke-width="0.6"/>
<line x1="84.50" y1="260.00" x2="84.50" y2="270.30" stroke="#333" stroke-width="0.6"/>
<line x1="90.80" y1="260.00" x2="90.80" y2="270.30" stroke="#333" stroke-width="0.6"/>
<line x1="94.10" y1="260.00" x2="94.10" y2="270.30" stroke="#333" stroke-width="0.6"/>
<line x1="97.50" y1="260.00" x2="97.50" y2="270.30" stroke="#333" stroke-width="0.6"/>
<line x1="100.50" y1="260.00" x2="100.50" y2="270.30" stroke="#333" stroke-width="0.6"/>
<line x1="118.00" y1="260.00" x2="118.00" y2="270.30" stroke="#333" stroke-width="0.6"/>
<line x1="120.50" y1="260.00" x2="120.50" y2="270.30" stroke="#333" stroke-width="0.6"/>
<line x1="126.00" y1="260.00" x2="126.00" y2="270.30" stroke="#333" stroke-width="0.6"/>
<line x1="128.50" y1="260.00" x2="128.50" y2="270.30" stroke="#333" stroke-width="0.6"/>
<polyline points="44.00,231.00 47.50,227.80 51.50,227.20 57.30,226.70 63.70,227.20 68.80,229.80 73.50,231.50 86.20,240.80 95.00,243.90 104.40,248.60 112.00,252.40 117.60,254.20 121.00,253.30 127.10,252.40 129.00,249.50 130.80,244.80 132.30,244.30 133.20,241.00 134.20,236.30 135.10,231.60" fill="none" stroke="#4a6f9c" stroke-width="0.8" stroke-linejoin="round"/>
<text x="49.20" y="255.60" font-size="4.1" textLength="39.80" lengthAdjust="spacingAndGlyphs" fill="#3a3a3a" stroke="none">Zero crossing at 7161</text>
<text x="95.30" y="258.60" font-size="4.1" textLength="22.50" lengthAdjust="spacingAndGlyphs" fill="#3a3a3a" stroke="none">Peak at 11612</text>
<text x="93.00" y="217.40" font-size="6.6" textLength="36.00" lengthAdjust="spacingAndGlyphs" stroke="#231f20" stroke-width="0.12">NES = −1.72</text>
<text x="93.00" y="224.50" font-size="6.6" textLength="42.50" lengthAdjust="spacingAndGlyphs" stroke="#231f20" stroke-width="0.12">q-value = 0.028</text>
<rect x="40.10" y="210.75" width="99.10" height="59.85" fill="none" stroke="#1a1a1a" stroke-width="1.15"/>
<line x1="35.90" y1="219.80" x2="40.10" y2="219.80" stroke="#231f20" stroke-width="0.75"/>
<text x="33.70" y="221.90" font-size="6.0" text-anchor="end" stroke="#231f20" stroke-width="0.12">0.2</text>
<line x1="35.90" y1="230.90" x2="40.10" y2="230.90" stroke="#231f20" stroke-width="0.75"/>
<text x="33.70" y="233.00" font-size="6.0" text-anchor="end" stroke="#231f20" stroke-width="0.12">0.0</text>
<line x1="35.90" y1="242.30" x2="40.10" y2="242.30" stroke="#231f20" stroke-width="0.75"/>
<text x="33.70" y="244.40" font-size="6.0" text-anchor="end" stroke="#231f20" stroke-width="0.12">−0.2</text>
<line x1="35.90" y1="253.60" x2="40.10" y2="253.60" stroke="#231f20" stroke-width="0.75"/>
<text x="33.70" y="255.70" font-size="6.0" text-anchor="end" stroke="#231f20" stroke-width="0.12">−0.4</text>
<line x1="35.90" y1="265.00" x2="40.10" y2="265.00" stroke="#231f20" stroke-width="0.75"/>
<text x="33.70" y="267.10" font-size="6.0" text-anchor="end" stroke="#231f20" stroke-width="0.12">−0.6</text>
<defs><linearGradient id="g3" x1="43.5" y1="0" x2="135.3" y2="0" gradientUnits="userSpaceOnUse"><stop offset="0" stop-color="#d0243a"/><stop offset="0.47" stop-color="#f0d6de"/><stop offset="0.53" stop-color="#c6d2e6"/><stop offset="1" stop-color="#2f5f9b"/></linearGradient></defs>
<rect x="45.50" y="273.85" width="87.80" height="0.9" fill="url(#g3)"/>
<path d="M43.50,274.30 L47.70,272.85 L46.90,274.30 L47.70,275.75 Z" fill="#d0243a"/>
<path d="M135.30,274.30 L131.10,272.85 L131.90,274.30 L131.10,275.75 Z" fill="#2f5f9b"/>
<text x="46.10" y="282.60" font-size="6.6" textLength="39.50" lengthAdjust="spacingAndGlyphs" stroke="#231f20" stroke-width="0.12">Induced by TQ</text>
<text x="92.70" y="282.60" font-size="6.6" textLength="42.80" lengthAdjust="spacingAndGlyphs" stroke="#231f20" stroke-width="0.12">Depleted by TQ</text>
<text x="28.80" y="297.40" font-size="8.35" textLength="121.80" lengthAdjust="spacingAndGlyphs" stroke="#231f20" stroke-width="0.12">PD sAML cells 20 μM TQ/Control</text>
<text x="12.10" y="307.20" font-size="8.8" textLength="155.60" lengthAdjust="spacingAndGlyphs" stroke="#231f20" stroke-width="0.12">HALLMARK_IL6_JAK_STAT3_SIGNALING</text>
<text x="16.30" y="342.90" font-size="7.3" text-anchor="middle" textLength="45.00" lengthAdjust="spacingAndGlyphs" transform="rotate(-90 16.30 342.90)" stroke="#231f20" stroke-width="0.12">Enrichment score</text>
<line x1="40.20" y1="333.40" x2="139.90" y2="333.40" stroke="#444" stroke-width="0.7" stroke-dasharray="0.7 0.85"/>
<line x1="89.60" y1="312.50" x2="89.60" y2="373.40" stroke="#c4cad4" stroke-width="0.5"/>
<line x1="119.30" y1="312.50" x2="119.30" y2="373.40" stroke="#c4cad4" stroke-width="0.5"/>
<line x1="44.30" y1="362.10" x2="44.30" y2="372.60" stroke="#666" stroke-width="0.95"/>
<line x1="45.80" y1="362.10" x2="45.80" y2="372.60" stroke="#555" stroke-width="0.95"/>
<line x1="47.20" y1="362.10" x2="47.20" y2="372.60" stroke="#555" stroke-width="0.8"/>
<line x1="49.10" y1="362.10" x2="49.10" y2="372.60" stroke="#666" stroke-width="1.1"/>
<line x1="51.30" y1="362.10" x2="51.30" y2="372.60" stroke="#666" stroke-width="1.1"/>
<line x1="52.50" y1="362.10" x2="52.50" y2="372.60" stroke="#555" stroke-width="0.8"/>
<line x1="54.90" y1="362.10" x2="54.90" y2="372.60" stroke="#444" stroke-width="0.8"/>
<line x1="55.90" y1="362.10" x2="55.90" y2="372.60" stroke="#555" stroke-width="1.1"/>
<line x1="57.30" y1="362.10" x2="57.30" y2="372.60" stroke="#555" stroke-width="0.95"/>
<line x1="58.30" y1="362.10" x2="58.30" y2="372.60" stroke="#666" stroke-width="0.95"/>
<line x1="62.60" y1="362.10" x2="62.60" y2="372.60" stroke="#666" stroke-width="1.1"/>
<line x1="63.60" y1="362.10" x2="63.60" y2="372.60" stroke="#666" stroke-width="0.95"/>
<line x1="65.50" y1="362.10" x2="65.50" y2="372.60" stroke="#444" stroke-width="1.1"/>
<line x1="67.90" y1="362.10" x2="67.90" y2="372.60" stroke="#444" stroke-width="0.8"/>
<line x1="70.30" y1="362.10" x2="70.30" y2="372.60" stroke="#444" stroke-width="0.8"/>
<line x1="72.70" y1="362.10" x2="72.70" y2="372.60" stroke="#666" stroke-width="1.1"/>
<line x1="74.10" y1="362.10" x2="74.10" y2="372.60" stroke="#666" stroke-width="1.1"/>
<line x1="75.60" y1="362.10" x2="75.60" y2="372.60" stroke="#444" stroke-width="0.95"/>
<line x1="76.50" y1="362.10" x2="76.50" y2="372.60" stroke="#666" stroke-width="0.8"/>
<line x1="80.40" y1="362.10" x2="80.40" y2="372.60" stroke="#666" stroke-width="1.1"/>
<line x1="81.30" y1="362.10" x2="81.30" y2="372.60" stroke="#444" stroke-width="0.95"/>
<line x1="82.30" y1="362.10" x2="82.30" y2="372.60" stroke="#555" stroke-width="0.8"/>
<line x1="83.80" y1="362.10" x2="83.80" y2="372.60" stroke="#666" stroke-width="0.95"/>
<line x1="85.20" y1="362.10" x2="85.20" y2="372.60" stroke="#666" stroke-width="1.1"/>
<line x1="87.10" y1="362.10" x2="87.10" y2="372.60" stroke="#444" stroke-width="1.1"/>
<line x1="88.60" y1="362.10" x2="88.60" y2="372.60" stroke="#555" stroke-width="1.1"/>
<line x1="89.00" y1="362.10" x2="89.00" y2="372.60" stroke="#555" stroke-width="0.8"/>
<line x1="90.40" y1="362.10" x2="90.40" y2="372.60" stroke="#555" stroke-width="0.95"/>
<line x1="94.70" y1="362.10" x2="94.70" y2="372.60" stroke="#666" stroke-width="0.8"/>
<line x1="95.70" y1="362.10" x2="95.70" y2="372.60" stroke="#666" stroke-width="0.95"/>
<line x1="97.60" y1="362.10" x2="97.60" y2="372.60" stroke="#444" stroke-width="0.95"/>
<line x1="99.50" y1="362.10" x2="99.50" y2="372.60" stroke="#555" stroke-width="1.1"/>
<line x1="101.00" y1="362.10" x2="101.00" y2="372.60" stroke="#444" stroke-width="0.95"/>
<line x1="103.40" y1="362.10" x2="103.40" y2="372.60" stroke="#444" stroke-width="0.8"/>
<line x1="105.30" y1="362.10" x2="105.30" y2="372.60" stroke="#666" stroke-width="0.8"/>
<line x1="107.70" y1="362.10" x2="107.70" y2="372.60" stroke="#444" stroke-width="1.1"/>
<line x1="109.60" y1="362.10" x2="109.60" y2="372.60" stroke="#555" stroke-width="0.8"/>
<line x1="111.60" y1="362.10" x2="111.60" y2="372.60" stroke="#555" stroke-width="0.8"/>
<line x1="113.00" y1="362.10" x2="113.00" y2="372.60" stroke="#555" stroke-width="0.8"/>
<line x1="114.40" y1="362.10" x2="114.40" y2="372.60" stroke="#666" stroke-width="1.1"/>
<line x1="115.90" y1="362.10" x2="115.90" y2="372.60" stroke="#666" stroke-width="1.1"/>
<line x1="117.30" y1="362.10" x2="117.30" y2="372.60" stroke="#666" stroke-width="0.8"/>
<line x1="119.70" y1="362.10" x2="119.70" y2="372.60" stroke="#555" stroke-width="1.1"/>
<line x1="121.20" y1="362.10" x2="121.20" y2="372.60" stroke="#555" stroke-width="0.95"/>
<line x1="122.60" y1="362.10" x2="122.60" y2="372.60" stroke="#555" stroke-width="0.8"/>
<line x1="124.50" y1="362.10" x2="124.50" y2="372.60" stroke="#555" stroke-width="0.8"/>
<line x1="127.40" y1="362.10" x2="127.40" y2="372.60" stroke="#666" stroke-width="1.1"/>
<line x1="130.30" y1="362.10" x2="130.30" y2="372.60" stroke="#555" stroke-width="0.95"/>
<line x1="132.20" y1="362.10" x2="132.20" y2="372.60" stroke="#444" stroke-width="0.8"/>
<line x1="134.20" y1="362.10" x2="134.20" y2="372.60" stroke="#555" stroke-width="0.8"/>
<polyline points="44.00,333.50 46.00,332.90 48.00,333.80 50.00,332.80 52.00,333.70 54.00,332.90 56.00,333.60 58.00,332.80 60.00,333.70 62.00,333.00 64.00,333.80 66.50,333.50 73.50,337.00 78.10,338.70 86.20,342.80 93.10,347.40 100.70,350.90 106.30,353.80 111.00,355.70 114.80,355.70 119.10,356.60 123.30,356.10 126.10,355.70 128.50,354.70 130.80,353.30 132.30,349.50 133.20,344.80 134.20,339.20 134.60,332.50 135.10,332.10" fill="none" stroke="#4a6f9c" stroke-width="0.8" stroke-linejoin="round"/>
<text x="49.20" y="359.20" font-size="4.1" textLength="39.80" lengthAdjust="spacingAndGlyphs" fill="#3a3a3a" stroke="none">Zero crossing at 7161</text>
<text x="97.80" y="361.20" font-size="4.1" textLength="22.50" lengthAdjust="spacingAndGlyphs" fill="#3a3a3a" stroke="none">Peak at 11605</text>
<text x="95.80" y="319.50" font-size="6.6" textLength="35.70" lengthAdjust="spacingAndGlyphs" stroke="#231f20" stroke-width="0.12">NES = −1.49</text>
<text x="95.80" y="326.90" font-size="6.6" textLength="38.70" lengthAdjust="spacingAndGlyphs" stroke="#231f20" stroke-width="0.12">q-value = 0.09</text>
<rect x="40.20" y="312.50" width="99.70" height="60.90" fill="none" stroke="#1a1a1a" stroke-width="1.15"/>
<line x1="36.00" y1="321.60" x2="40.20" y2="321.60" stroke="#231f20" stroke-width="0.75"/>
<text x="33.80" y="323.70" font-size="6.0" text-anchor="end" stroke="#231f20" stroke-width="0.12">0.2</text>
<line x1="36.00" y1="333.10" x2="40.20" y2="333.10" stroke="#231f20" stroke-width="0.75"/>
<text x="33.80" y="335.20" font-size="6.0" text-anchor="end" stroke="#231f20" stroke-width="0.12">0.0</text>
<line x1="36.00" y1="344.70" x2="40.20" y2="344.70" stroke="#231f20" stroke-width="0.75"/>
<text x="33.80" y="346.80" font-size="6.0" text-anchor="end" stroke="#231f20" stroke-width="0.12">−0.2</text>
<line x1="36.00" y1="356.50" x2="40.20" y2="356.50" stroke="#231f20" stroke-width="0.75"/>
<text x="33.80" y="358.60" font-size="6.0" text-anchor="end" stroke="#231f20" stroke-width="0.12">−0.4</text>
<line x1="36.00" y1="368.20" x2="40.20" y2="368.20" stroke="#231f20" stroke-width="0.75"/>
<text x="33.80" y="370.30" font-size="6.0" text-anchor="end" stroke="#231f20" stroke-width="0.12">−0.6</text>
<defs><linearGradient id="g4" x1="44.0" y1="0" x2="136.7" y2="0" gradientUnits="userSpaceOnUse"><stop offset="0" stop-color="#d0243a"/><stop offset="0.47" stop-color="#f0d6de"/><stop offset="0.53" stop-color="#c6d2e6"/><stop offset="1" stop-color="#2f5f9b"/></linearGradient></defs>
<rect x="46.00" y="376.75" width="88.70" height="0.9" fill="url(#g4)"/>
<path d="M44.00,377.20 L48.20,375.75 L47.40,377.20 L48.20,378.65 Z" fill="#d0243a"/>
<path d="M136.70,377.20 L132.50,375.75 L133.30,377.20 L132.50,378.65 Z" fill="#2f5f9b"/>
<text x="46.10" y="385.90" font-size="6.6" textLength="39.50" lengthAdjust="spacingAndGlyphs" stroke="#231f20" stroke-width="0.12">Induced by TQ</text>
<text x="95.10" y="385.60" font-size="6.6" textLength="42.20" lengthAdjust="spacingAndGlyphs" stroke="#231f20" stroke-width="0.12">Depleted by TQ</text>
<text x="262.80" y="229.00" font-size="8.35" textLength="38.60" lengthAdjust="spacingAndGlyphs" stroke="#231f20" stroke-width="0.12">PD sAML6</text>
<text x="218.90" y="239.20" font-size="8.35" textLength="126.70" lengthAdjust="spacingAndGlyphs" stroke="#231f20" stroke-width="0.12">20 μM tasquinimod, 16 hrs/Control</text>
<defs><filter id="bl" x="-20%" y="-20%" width="140%" height="140%"><feGaussianBlur stdDeviation="0.9"/></filter></defs>
<g filter="url(#bl)">
<rect x="258.50" y="304.00" width="10.50" height="46.00" fill="#dae0e7"/>
<rect x="266.00" y="303.00" width="10.00" height="20.00" fill="#e0e0e0"/>
<rect x="268.80" y="319.00" width="8.80" height="31.00" fill="#bababa"/>
<rect x="262.00" y="296.00" width="5.00" height="8.00" fill="#e6e6e6"/>
</g>
<circle cx="275.03" cy="348.29" r="0.8" fill="#b5b5b5" fill-opacity="0.5"/>
<circle cx="271.03" cy="340.81" r="0.8" fill="#b5b5b5" fill-opacity="0.5"/>
<circle cx="276.10" cy="325.93" r="0.8" fill="#b5b5b5" fill-opacity="0.5"/>
<circle cx="277.81" cy="345.78" r="0.8" fill="#b5b5b5" fill-opacity="0.5"/>
<circle cx="272.64" cy="348.08" r="0.8" fill="#b5b5b5" fill-opacity="0.5"/>
<circle cx="270.41" cy="331.37" r="0.8" fill="#b5b5b5" fill-opacity="0.5"/>
<circle cx="268.29" cy="341.67" r="0.8" fill="#b5b5b5" fill-opacity="0.5"/>
<circle cx="275.15" cy="330.10" r="0.8" fill="#b5b5b5" fill-opacity="0.5"/>
<circle cx="270.42" cy="328.69" r="0.8" fill="#b5b5b5" fill-opacity="0.5"/>
<circle cx="276.90" cy="349.14" r="0.8" fill="#b5b5b5" fill-opacity="0.5"/>
<circle cx="276.86" cy="325.26" r="0.8" fill="#b5b5b5" fill-opacity="0.5"/>
<circle cx="271.74" cy="343.23" r="0.8" fill="#b5b5b5" fill-opacity="0.5"/>
<circle cx="278.53" cy="336.93" r="0.8" fill="#b5b5b5" fill-opacity="0.5"/>
<circle cx="269.02" cy="345.41" r="0.8" fill="#b5b5b5" fill-opacity="0.5"/>
<circle cx="277.32" cy="328.23" r="0.8" fill="#b5b5b5" fill-opacity="0.5"/>
<circle cx="276.88" cy="324.27" r="0.8" fill="#b5b5b5" fill-opacity="0.5"/>
<circle cx="273.90" cy="316.81" r="0.8" fill="#b5b5b5" fill-opacity="0.5"/>
<circle cx="272.16" cy="329.87" r="0.8" fill="#b5b5b5" fill-opacity="0.5"/>
<circle cx="277.12" cy="327.76" r="0.8" fill="#b5b5b5" fill-opacity="0.5"/>
<circle cx="277.48" cy="329.07" r="0.8" fill="#b5b5b5" fill-opacity="0.5"/>
<circle cx="275.75" cy="347.41" r="0.8" fill="#b5b5b5" fill-opacity="0.5"/>
<circle cx="270.51" cy="338.53" r="0.8" fill="#b5b5b5" fill-opacity="0.5"/>
<circle cx="268.88" cy="340.48" r="0.8" fill="#b5b5b5" fill-opacity="0.5"/>
<circle cx="269.11" cy="338.92" r="0.8" fill="#b5b5b5" fill-opacity="0.5"/>
<circle cx="274.99" cy="335.98" r="0.8" fill="#b5b5b5" fill-opacity="0.5"/>
<circle cx="272.07" cy="341.29" r="0.8" fill="#b5b5b5" fill-opacity="0.5"/>
<circle cx="270.94" cy="317.92" r="0.8" fill="#b5b5b5" fill-opacity="0.5"/>
<circle cx="275.13" cy="328.06" r="0.8" fill="#b5b5b5" fill-opacity="0.5"/>
<circle cx="269.88" cy="324.29" r="0.8" fill="#b5b5b5" fill-opacity="0.5"/>
<circle cx="269.80" cy="335.49" r="0.8" fill="#b5b5b5" fill-opacity="0.5"/>
<circle cx="278.88" cy="327.08" r="0.8" fill="#b5b5b5" fill-opacity="0.5"/>
<circle cx="274.13" cy="325.68" r="0.8" fill="#b5b5b5" fill-opacity="0.5"/>
<circle cx="277.27" cy="322.84" r="0.8" fill="#b5b5b5" fill-opacity="0.5"/>
<circle cx="270.52" cy="347.98" r="0.8" fill="#b5b5b5" fill-opacity="0.5"/>
<circle cx="271.47" cy="339.27" r="0.8" fill="#b5b5b5" fill-opacity="0.5"/>
<circle cx="270.32" cy="317.73" r="0.8" fill="#b5b5b5" fill-opacity="0.5"/>
<circle cx="277.64" cy="337.67" r="0.8" fill="#b5b5b5" fill-opacity="0.5"/>
<circle cx="275.21" cy="334.96" r="0.8" fill="#b5b5b5" fill-opacity="0.5"/>
<circle cx="278.06" cy="332.88" r="0.8" fill="#b5b5b5" fill-opacity="0.5"/>
<circle cx="270.91" cy="340.00" r="0.8" fill="#b5b5b5" fill-opacity="0.5"/>
<circle cx="274.18" cy="339.44" r="0.8" fill="#b5b5b5" fill-opacity="0.5"/>
<circle cx="274.43" cy="319.10" r="0.8" fill="#b5b5b5" fill-opacity="0.5"/>
<circle cx="272.39" cy="340.95" r="0.8" fill="#b5b5b5" fill-opacity="0.5"/>
<circle cx="278.97" cy="331.24" r="0.8" fill="#b5b5b5" fill-opacity="0.5"/>
<circle cx="269.00" cy="347.36" r="0.8" fill="#b5b5b5" fill-opacity="0.5"/>
<circle cx="269.21" cy="327.48" r="0.8" fill="#b5b5b5" fill-opacity="0.5"/>
<circle cx="276.71" cy="334.08" r="0.8" fill="#b5b5b5" fill-opacity="0.5"/>
<circle cx="268.70" cy="335.42" r="0.8" fill="#b5b5b5" fill-opacity="0.5"/>
<circle cx="278.96" cy="330.61" r="0.8" fill="#b5b5b5" fill-opacity="0.5"/>
<circle cx="278.68" cy="320.23" r="0.8" fill="#b5b5b5" fill-opacity="0.5"/>
<circle cx="268.13" cy="324.55" r="0.8" fill="#b5b5b5" fill-opacity="0.5"/>
<circle cx="275.50" cy="330.36" r="0.8" fill="#b5b5b5" fill-opacity="0.5"/>
<circle cx="270.94" cy="327.05" r="0.8" fill="#b5b5b5" fill-opacity="0.5"/>
<circle cx="269.23" cy="333.67" r="0.8" fill="#b5b5b5" fill-opacity="0.5"/>
<circle cx="272.99" cy="317.40" r="0.8" fill="#b5b5b5" fill-opacity="0.5"/>
<circle cx="277.63" cy="339.42" r="0.8" fill="#b5b5b5" fill-opacity="0.5"/>
<circle cx="273.51" cy="342.39" r="0.8" fill="#b5b5b5" fill-opacity="0.5"/>
<circle cx="278.04" cy="319.93" r="0.8" fill="#b5b5b5" fill-opacity="0.5"/>
<circle cx="271.28" cy="327.11" r="0.8" fill="#b5b5b5" fill-opacity="0.5"/>
<circle cx="274.70" cy="343.32" r="0.8" fill="#b5b5b5" fill-opacity="0.5"/>
<circle cx="265.74" cy="327.38" r="0.75" fill="#c0c8d2" fill-opacity="0.45"/>
<circle cx="265.90" cy="327.90" r="0.75" fill="#c0c8d2" fill-opacity="0.45"/>
<circle cx="258.51" cy="338.66" r="0.75" fill="#c0c8d2" fill-opacity="0.45"/>
<circle cx="258.69" cy="302.14" r="0.75" fill="#c0c8d2" fill-opacity="0.45"/>
<circle cx="266.85" cy="308.94" r="0.75" fill="#c0c8d2" fill-opacity="0.45"/>
<circle cx="261.42" cy="348.53" r="0.75" fill="#c0c8d2" fill-opacity="0.45"/>
<circle cx="266.84" cy="300.86" r="0.75" fill="#c0c8d2" fill-opacity="0.45"/>
<circle cx="259.31" cy="330.38" r="0.75" fill="#c0c8d2" fill-opacity="0.45"/>
<circle cx="259.16" cy="313.71" r="0.75" fill="#c0c8d2" fill-opacity="0.45"/>
<circle cx="265.78" cy="346.53" r="0.75" fill="#c0c8d2" fill-opacity="0.45"/>
<circle cx="263.02" cy="326.78" r="0.75" fill="#c0c8d2" fill-opacity="0.45"/>
<circle cx="261.02" cy="306.13" r="0.75" fill="#c0c8d2" fill-opacity="0.45"/>
<circle cx="262.52" cy="343.52" r="0.75" fill="#c0c8d2" fill-opacity="0.45"/>
<circle cx="263.62" cy="315.71" r="0.75" fill="#c0c8d2" fill-opacity="0.45"/>
<circle cx="260.41" cy="339.23" r="0.75" fill="#c0c8d2" fill-opacity="0.45"/>
<circle cx="267.95" cy="320.78" r="0.75" fill="#c0c8d2" fill-opacity="0.45"/>
<circle cx="262.66" cy="328.62" r="0.75" fill="#c0c8d2" fill-opacity="0.45"/>
<circle cx="259.65" cy="343.01" r="0.75" fill="#c0c8d2" fill-opacity="0.45"/>
<circle cx="261.71" cy="324.52" r="0.75" fill="#c0c8d2" fill-opacity="0.45"/>
<circle cx="260.69" cy="343.19" r="0.75" fill="#c0c8d2" fill-opacity="0.45"/>
<circle cx="259.17" cy="321.94" r="0.75" fill="#c0c8d2" fill-opacity="0.45"/>
<circle cx="260.67" cy="303.82" r="0.75" fill="#c0c8d2" fill-opacity="0.45"/>
<circle cx="266.67" cy="348.21" r="0.75" fill="#c0c8d2" fill-opacity="0.45"/>
<circle cx="260.76" cy="319.60" r="0.75" fill="#c0c8d2" fill-opacity="0.45"/>
<circle cx="260.54" cy="346.41" r="0.75" fill="#c0c8d2" fill-opacity="0.45"/>
<circle cx="267.39" cy="325.54" r="0.75" fill="#c0c8d2" fill-opacity="0.45"/>
<circle cx="262.99" cy="312.12" r="0.75" fill="#c0c8d2" fill-opacity="0.45"/>
<circle cx="266.17" cy="344.35" r="0.75" fill="#c0c8d2" fill-opacity="0.45"/>
<circle cx="259.42" cy="333.34" r="0.75" fill="#c0c8d2" fill-opacity="0.45"/>
<circle cx="262.52" cy="331.42" r="0.75" fill="#c0c8d2" fill-opacity="0.45"/>
<circle cx="265.43" cy="319.32" r="0.75" fill="#c0c8d2" fill-opacity="0.45"/>
<circle cx="267.85" cy="347.46" r="0.75" fill="#c0c8d2" fill-opacity="0.45"/>
<circle cx="262.32" cy="337.94" r="0.75" fill="#c0c8d2" fill-opacity="0.45"/>
<circle cx="266.69" cy="342.02" r="0.75" fill="#c0c8d2" fill-opacity="0.45"/>
<circle cx="260.31" cy="332.41" r="0.75" fill="#c0c8d2" fill-opacity="0.45"/>
<circle cx="262.51" cy="340.73" r="0.75" fill="#c0c8d2" fill-opacity="0.45"/>
<circle cx="260.87" cy="302.55" r="0.75" fill="#c0c8d2" fill-opacity="0.45"/>
<circle cx="262.71" cy="306.90" r="0.75" fill="#c0c8d2" fill-opacity="0.45"/>
<circle cx="263.73" cy="348.69" r="0.75" fill="#c0c8d2" fill-opacity="0.45"/>
<circle cx="267.99" cy="308.64" r="0.75" fill="#c0c8d2" fill-opacity="0.45"/>
<circle cx="258.24" cy="321.63" r="0.75" fill="#cfcfcf" fill-opacity="0.4"/>
<circle cx="257.21" cy="347.71" r="0.75" fill="#cfcfcf" fill-opacity="0.4"/>
<circle cx="254.13" cy="346.83" r="0.75" fill="#cfcfcf" fill-opacity="0.4"/>
<circle cx="253.41" cy="349.16" r="0.75" fill="#cfcfcf" fill-opacity="0.4"/>
<circle cx="253.22" cy="318.74" r="0.75" fill="#cfcfcf" fill-opacity="0.4"/>
<circle cx="252.25" cy="328.16" r="0.75" fill="#cfcfcf" fill-opacity="0.4"/>
<circle cx="253.87" cy="341.55" r="0.75" fill="#cfcfcf" fill-opacity="0.4"/>
<circle cx="258.14" cy="318.23" r="0.75" fill="#cfcfcf" fill-opacity="0.4"/>
<circle cx="254.72" cy="330.94" r="0.75" fill="#cfcfcf" fill-opacity="0.4"/>
<circle cx="251.32" cy="344.99" r="0.75" fill="#cfcfcf" fill-opacity="0.4"/>
<circle cx="258.23" cy="336.35" r="0.75" fill="#cfcfcf" fill-opacity="0.4"/>
<circle cx="254.61" cy="329.71" r="0.75" fill="#cfcfcf" fill-opacity="0.4"/>
<circle cx="250.49" cy="336.17" r="0.75" fill="#cfcfcf" fill-opacity="0.4"/>
<circle cx="254.27" cy="325.09" r="0.75" fill="#cfcfcf" fill-opacity="0.4"/>
<circle cx="251.34" cy="319.95" r="0.75" fill="#cfcfcf" fill-opacity="0.4"/>
<circle cx="250.68" cy="347.37" r="0.75" fill="#cfcfcf" fill-opacity="0.4"/>
<circle cx="255.06" cy="332.70" r="0.75" fill="#cfcfcf" fill-opacity="0.4"/>
<circle cx="252.00" cy="348.44" r="0.75" fill="#cfcfcf" fill-opacity="0.4"/>
<circle cx="257.57" cy="346.15" r="0.75" fill="#cfcfcf" fill-opacity="0.4"/>
<circle cx="255.05" cy="334.86" r="0.75" fill="#cfcfcf" fill-opacity="0.4"/>
<circle cx="253.56" cy="336.19" r="0.75" fill="#cfcfcf" fill-opacity="0.4"/>
<circle cx="254.44" cy="321.23" r="0.75" fill="#cfcfcf" fill-opacity="0.4"/>
<circle cx="251.74" cy="331.03" r="0.75" fill="#cfcfcf" fill-opacity="0.4"/>
<circle cx="252.03" cy="342.35" r="0.75" fill="#cfcfcf" fill-opacity="0.4"/>
<circle cx="255.71" cy="344.91" r="0.75" fill="#cfcfcf" fill-opacity="0.4"/>
<circle cx="284.27" cy="329.54" r="0.75" fill="#cdcdcd" fill-opacity="0.45"/>
<circle cx="278.67" cy="340.46" r="0.75" fill="#cdcdcd" fill-opacity="0.45"/>
<circle cx="299.96" cy="318.20" r="0.75" fill="#cdcdcd" fill-opacity="0.45"/>
<circle cx="278.68" cy="346.84" r="0.75" fill="#cdcdcd" fill-opacity="0.45"/>
<circle cx="283.10" cy="321.30" r="0.75" fill="#cdcdcd" fill-opacity="0.45"/>
<circle cx="297.26" cy="323.86" r="0.75" fill="#cdcdcd" fill-opacity="0.45"/>
<circle cx="285.50" cy="347.86" r="0.75" fill="#cdcdcd" fill-opacity="0.45"/>
<circle cx="296.18" cy="331.55" r="0.75" fill="#cdcdcd" fill-opacity="0.45"/>
<circle cx="291.07" cy="318.64" r="0.75" fill="#cdcdcd" fill-opacity="0.45"/>
<circle cx="292.04" cy="349.49" r="0.75" fill="#cdcdcd" fill-opacity="0.45"/>
<circle cx="295.79" cy="344.93" r="0.75" fill="#cdcdcd" fill-opacity="0.45"/>
<circle cx="292.26" cy="321.02" r="0.75" fill="#cdcdcd" fill-opacity="0.45"/>
<circle cx="280.09" cy="348.50" r="0.75" fill="#cdcdcd" fill-opacity="0.45"/>
<circle cx="279.46" cy="337.28" r="0.75" fill="#cdcdcd" fill-opacity="0.45"/>
<circle cx="283.26" cy="335.41" r="0.75" fill="#cdcdcd" fill-opacity="0.45"/>
<circle cx="293.51" cy="347.03" r="0.75" fill="#cdcdcd" fill-opacity="0.45"/>
<circle cx="291.59" cy="345.76" r="0.75" fill="#cdcdcd" fill-opacity="0.45"/>
<circle cx="288.24" cy="322.63" r="0.75" fill="#cdcdcd" fill-opacity="0.45"/>
<circle cx="296.46" cy="348.80" r="0.75" fill="#cdcdcd" fill-opacity="0.45"/>
<circle cx="286.74" cy="345.47" r="0.75" fill="#cdcdcd" fill-opacity="0.45"/>
<circle cx="277.08" cy="328.72" r="0.75" fill="#cdcdcd" fill-opacity="0.45"/>
<circle cx="291.65" cy="345.81" r="0.75" fill="#cdcdcd" fill-opacity="0.45"/>
<circle cx="294.05" cy="337.34" r="0.75" fill="#cdcdcd" fill-opacity="0.45"/>
<circle cx="286.84" cy="349.48" r="0.75" fill="#cdcdcd" fill-opacity="0.45"/>
<circle cx="278.73" cy="323.68" r="0.75" fill="#cdcdcd" fill-opacity="0.45"/>
<circle cx="297.79" cy="337.55" r="0.75" fill="#cdcdcd" fill-opacity="0.45"/>
<circle cx="296.20" cy="336.23" r="0.75" fill="#cdcdcd" fill-opacity="0.45"/>
<circle cx="280.41" cy="348.33" r="0.75" fill="#cdcdcd" fill-opacity="0.45"/>
<circle cx="284.09" cy="322.93" r="0.75" fill="#cdcdcd" fill-opacity="0.45"/>
<circle cx="295.31" cy="324.72" r="0.75" fill="#cdcdcd" fill-opacity="0.45"/>
<circle cx="340.85" cy="348.11" r="0.75" fill="#dadada" fill-opacity="0.45"/>
<circle cx="249.93" cy="349.17" r="0.75" fill="#dadada" fill-opacity="0.45"/>
<circle cx="324.22" cy="324.88" r="0.75" fill="#dadada" fill-opacity="0.45"/>
<circle cx="271.89" cy="337.37" r="0.75" fill="#dadada" fill-opacity="0.45"/>
<circle cx="236.64" cy="322.26" r="0.75" fill="#dadada" fill-opacity="0.45"/>
<circle cx="336.04" cy="319.48" r="0.75" fill="#dadada" fill-opacity="0.45"/>
<circle cx="328.51" cy="325.03" r="0.75" fill="#dadada" fill-opacity="0.45"/>
<circle cx="218.47" cy="332.41" r="0.75" fill="#dadada" fill-opacity="0.45"/>
<circle cx="261.51" cy="322.21" r="0.75" fill="#dadada" fill-opacity="0.45"/>
<circle cx="327.31" cy="325.98" r="0.75" fill="#dadada" fill-opacity="0.45"/>
<circle cx="328.50" cy="347.26" r="0.75" fill="#dadada" fill-opacity="0.45"/>
<circle cx="325.23" cy="349.13" r="0.75" fill="#dadada" fill-opacity="0.45"/>
<circle cx="337.10" cy="326.28" r="0.75" fill="#dadada" fill-opacity="0.45"/>
<circle cx="246.14" cy="328.50" r="0.75" fill="#dadada" fill-opacity="0.45"/>
<circle cx="279.44" cy="346.57" r="0.75" fill="#dadada" fill-opacity="0.45"/>
<circle cx="326.35" cy="347.87" r="0.75" fill="#dadada" fill-opacity="0.45"/>
<circle cx="218.31" cy="348.33" r="0.75" fill="#dadada" fill-opacity="0.45"/>
<circle cx="260.96" cy="325.97" r="0.75" fill="#dadada" fill-opacity="0.45"/>
<circle cx="350.36" cy="347.05" r="0.75" fill="#dadada" fill-opacity="0.45"/>
<circle cx="304.81" cy="344.47" r="0.75" fill="#dadada" fill-opacity="0.45"/>
<circle cx="352.36" cy="340.44" r="0.75" fill="#dadada" fill-opacity="0.45"/>
<circle cx="346.49" cy="349.08" r="0.75" fill="#dadada" fill-opacity="0.45"/>
<circle cx="350.86" cy="348.50" r="0.75" fill="#dadada" fill-opacity="0.45"/>
<circle cx="349.75" cy="347.28" r="0.75" fill="#dadada" fill-opacity="0.45"/>
<circle cx="230.18" cy="343.55" r="0.75" fill="#dadada" fill-opacity="0.45"/>
<circle cx="317.00" cy="346.40" r="0.75" fill="#dadada" fill-opacity="0.45"/>
<circle cx="299.87" cy="341.26" r="0.75" fill="#dadada" fill-opacity="0.45"/>
<circle cx="268.93" cy="339.03" r="0.75" fill="#dadada" fill-opacity="0.45"/>
<circle cx="250.66" cy="333.68" r="0.75" fill="#dadada" fill-opacity="0.45"/>
<circle cx="215.24" cy="322.51" r="0.75" fill="#dadada" fill-opacity="0.45"/>
<circle cx="290.38" cy="333.20" r="0.75" fill="#dadada" fill-opacity="0.45"/>
<circle cx="318.87" cy="335.33" r="0.75" fill="#dadada" fill-opacity="0.45"/>
<circle cx="265.99" cy="349.35" r="0.75" fill="#dadada" fill-opacity="0.45"/>
<circle cx="307.99" cy="346.07" r="0.75" fill="#dadada" fill-opacity="0.45"/>
<circle cx="258.95" cy="326.85" r="0.75" fill="#dadada" fill-opacity="0.45"/>
<circle cx="315.77" cy="346.66" r="0.75" fill="#dadada" fill-opacity="0.45"/>
<circle cx="258.30" cy="344.25" r="0.75" fill="#dadada" fill-opacity="0.45"/>
<circle cx="271.34" cy="346.75" r="0.75" fill="#dadada" fill-opacity="0.45"/>
<circle cx="232.82" cy="343.93" r="0.75" fill="#dadada" fill-opacity="0.45"/>
<circle cx="346.65" cy="335.05" r="0.75" fill="#dadada" fill-opacity="0.45"/>
<circle cx="341.39" cy="337.57" r="0.75" fill="#dadada" fill-opacity="0.45"/>
<circle cx="257.13" cy="340.04" r="0.75" fill="#dadada" fill-opacity="0.45"/>
<circle cx="215.06" cy="346.91" r="0.75" fill="#dadada" fill-opacity="0.45"/>
<circle cx="275.18" cy="338.90" r="0.75" fill="#dadada" fill-opacity="0.45"/>
<circle cx="306.66" cy="342.69" r="0.75" fill="#dadada" fill-opacity="0.45"/>
<circle cx="254.19" cy="323.59" r="0.8" fill="#b8cde4" fill-opacity="0.55"/>
<circle cx="254.62" cy="302.96" r="0.8" fill="#b8cde4" fill-opacity="0.55"/>
<circle cx="259.14" cy="324.91" r="0.8" fill="#b8cde4" fill-opacity="0.55"/>
<circle cx="249.19" cy="314.54" r="0.8" fill="#b8cde4" fill-opacity="0.55"/>
<circle cx="256.86" cy="319.94" r="0.8" fill="#b8cde4" fill-opacity="0.55"/>
<circle cx="259.46" cy="307.47" r="0.8" fill="#b8cde4" fill-opacity="0.55"/>
<circle cx="257.42" cy="323.26" r="0.8" fill="#b8cde4" fill-opacity="0.55"/>
<circle cx="250.79" cy="329.27" r="0.8" fill="#b8cde4" fill-opacity="0.55"/>
<circle cx="251.43" cy="315.75" r="0.8" fill="#b8cde4" fill-opacity="0.55"/>
<circle cx="259.90" cy="327.82" r="0.8" fill="#b8cde4" fill-opacity="0.55"/>
<circle cx="253.80" cy="311.11" r="0.8" fill="#b8cde4" fill-opacity="0.55"/>
<circle cx="250.72" cy="309.11" r="0.8" fill="#b8cde4" fill-opacity="0.55"/>
<circle cx="254.92" cy="322.68" r="0.8" fill="#b8cde4" fill-opacity="0.55"/>
<circle cx="257.18" cy="329.83" r="0.8" fill="#b8cde4" fill-opacity="0.55"/>
<circle cx="258.51" cy="306.90" r="0.8" fill="#b8cde4" fill-opacity="0.55"/>
<circle cx="249.49" cy="317.25" r="0.8" fill="#b8cde4" fill-opacity="0.55"/>
<circle cx="250.46" cy="301.26" r="0.8" fill="#b8cde4" fill-opacity="0.55"/>
<circle cx="255.25" cy="328.49" r="0.8" fill="#b8cde4" fill-opacity="0.55"/>
<circle cx="254.95" cy="274.55" r="0.7" fill="#dddddd" fill-opacity="0.5"/>
<circle cx="267.39" cy="275.96" r="0.7" fill="#dddddd" fill-opacity="0.5"/>
<circle cx="280.05" cy="270.36" r="0.7" fill="#dddddd" fill-opacity="0.5"/>
<circle cx="275.73" cy="271.50" r="0.7" fill="#dddddd" fill-opacity="0.5"/>
<circle cx="293.49" cy="281.62" r="0.7" fill="#dddddd" fill-opacity="0.5"/>
<circle cx="283.16" cy="284.86" r="0.7" fill="#dddddd" fill-opacity="0.5"/>
<circle cx="289.83" cy="283.56" r="0.7" fill="#dddddd" fill-opacity="0.5"/>
<circle cx="293.83" cy="277.69" r="0.7" fill="#dddddd" fill-opacity="0.5"/>
<circle cx="268.48" cy="292.22" r="0.7" fill="#dddddd" fill-opacity="0.5"/>
<circle cx="254.83" cy="280.87" r="0.7" fill="#dddddd" fill-opacity="0.5"/>
<circle cx="285.95" cy="284.36" r="0.7" fill="#dddddd" fill-opacity="0.5"/>
<circle cx="277.60" cy="291.76" r="0.7" fill="#dddddd" fill-opacity="0.5"/>
<line x1="210.40" y1="346.3" x2="353.6" y2="346.3" stroke="#111" stroke-width="0.8" stroke-dasharray="0.9 1.3"/>
<line x1="209.40" y1="244.50" x2="209.40" y2="351.70" stroke="#231f20" stroke-width="1.0"/>
<line x1="208.90" y1="351.20" x2="358.50" y2="351.20" stroke="#231f20" stroke-width="1.0"/>
<line x1="206.20" y1="262.00" x2="209.40" y2="262.00" stroke="#231f20" stroke-width="0.75"/>
<text x="203.00" y="264.10" font-size="6.2" text-anchor="end" stroke="#231f20" stroke-width="0.12">100</text>
<line x1="206.20" y1="285.37" x2="209.40" y2="285.37" stroke="#231f20" stroke-width="0.75"/>
<text x="203.00" y="287.47" font-size="6.2" text-anchor="end" stroke="#231f20" stroke-width="0.12">30</text>
<line x1="206.20" y1="306.70" x2="209.40" y2="306.70" stroke="#231f20" stroke-width="0.75"/>
<text x="203.00" y="308.80" font-size="6.2" text-anchor="end" stroke="#231f20" stroke-width="0.12">10</text>
<line x1="206.20" y1="330.07" x2="209.40" y2="330.07" stroke="#231f20" stroke-width="0.75"/>
<text x="203.00" y="332.17" font-size="6.2" text-anchor="end" stroke="#231f20" stroke-width="0.12">3</text>
<line x1="206.20" y1="351.40" x2="209.40" y2="351.40" stroke="#231f20" stroke-width="0.75"/>
<text x="203.00" y="353.50" font-size="6.2" text-anchor="end" stroke="#231f20" stroke-width="0.12">1</text>
<line x1="209.46" y1="351.20" x2="209.46" y2="353.40" stroke="#231f20" stroke-width="0.7"/>
<text x="209.46" y="362.60" font-size="6.2" text-anchor="middle" stroke="#231f20" stroke-width="0.12">−4</text>
<line x1="238.38" y1="351.20" x2="238.38" y2="353.40" stroke="#231f20" stroke-width="0.7"/>
<text x="238.38" y="362.60" font-size="6.2" text-anchor="middle" stroke="#231f20" stroke-width="0.12">−2</text>
<line x1="267.30" y1="351.20" x2="267.30" y2="353.40" stroke="#231f20" stroke-width="0.7"/>
<text x="267.30" y="362.60" font-size="6.2" text-anchor="middle" stroke="#231f20" stroke-width="0.12">0</text>
<line x1="296.22" y1="351.20" x2="296.22" y2="353.40" stroke="#231f20" stroke-width="0.7"/>
<text x="296.22" y="362.60" font-size="6.2" text-anchor="middle" stroke="#231f20" stroke-width="0.12">2</text>
<line x1="325.14" y1="351.20" x2="325.14" y2="353.40" stroke="#231f20" stroke-width="0.7"/>
<text x="325.14" y="362.60" font-size="6.2" text-anchor="middle" stroke="#231f20" stroke-width="0.12">4</text>
<line x1="354.06" y1="351.20" x2="354.06" y2="353.40" stroke="#231f20" stroke-width="0.7"/>
<text x="354.06" y="362.60" font-size="6.2" text-anchor="middle" stroke="#231f20" stroke-width="0.12">6</text>
<text x="282.50" y="374.30" font-size="7.2" text-anchor="middle" textLength="96.40" lengthAdjust="spacingAndGlyphs" stroke="#231f20" stroke-width="0.2">log2 fold-change in mRNA expression</text>
<text x="186.10" y="294.00" font-size="6.6" text-anchor="middle" textLength="42.00" lengthAdjust="spacingAndGlyphs" transform="rotate(-90 186.10 294.00)" stroke="#231f20" stroke-width="0.2">-log10 p-value</text>
<circle cx="235.00" cy="260.90" r="1.05" fill="#231f20"/>
<circle cx="242.20" cy="268.60" r="1.05" fill="#1c4f88"/>
<circle cx="254.10" cy="286.50" r="1.05" fill="#1c4f88"/>
<circle cx="242.60" cy="294.90" r="1.05" fill="#231f20"/>
<circle cx="305.30" cy="248.20" r="1.05" fill="#c8102e"/>
<circle cx="286.50" cy="270.00" r="1.05" fill="#c8102e"/>
<circle cx="279.90" cy="287.80" r="1.05" fill="#c8102e"/>
<circle cx="292.50" cy="315.60" r="1.05" fill="#c8102e"/>
<circle cx="252.80" cy="311.60" r="1.05" fill="#1c4f88"/>
<circle cx="259.20" cy="318.50" r="0.8" fill="#231f20"/>
<circle cx="260.50" cy="321.50" r="0.8" fill="#231f20"/>
<circle cx="259.90" cy="312.80" r="0.8" fill="#6f93bd"/>
<text x="229.30" y="258.80" font-size="5.1" textLength="11.30" lengthAdjust="spacingAndGlyphs" stroke="#231f20" stroke-width="0.18">MPO</text>
<text x="224.40" y="270.40" font-size="5.1" textLength="14.80" lengthAdjust="spacingAndGlyphs" stroke="#231f20" stroke-width="0.18">TGFBI</text>
<text x="227.30" y="296.90" font-size="5.1" textLength="12.60" lengthAdjust="spacingAndGlyphs" stroke="#231f20" stroke-width="0.18">HEY1</text>
<text x="259.20" y="293.60" font-size="5.1" textLength="13.20" lengthAdjust="spacingAndGlyphs" stroke="#231f20" stroke-width="0.18">CD93</text>
<text x="308.40" y="250.00" font-size="5.1" textLength="18.90" lengthAdjust="spacingAndGlyphs" stroke="#231f20" stroke-width="0.18">CYP1A1</text>
<text x="289.20" y="271.80" font-size="5.1" textLength="12.60" lengthAdjust="spacingAndGlyphs" stroke="#231f20" stroke-width="0.18">LRP5</text>
<text x="283.30" y="287.30" font-size="5.1" textLength="10.50" lengthAdjust="spacingAndGlyphs" stroke="#231f20" stroke-width="0.18">GFI1</text>
<text x="276.90" y="304.70" font-size="5.1" textLength="12.00" lengthAdjust="spacingAndGlyphs" stroke="#231f20" stroke-width="0.18">LMO4</text>
<text x="276.90" y="310.20" font-size="5.1" textLength="23.30" lengthAdjust="spacingAndGlyphs" stroke="#231f20" stroke-width="0.18">CDKN1A</text>
<text x="295.20" y="317.90" font-size="5.1" textLength="17.50" lengthAdjust="spacingAndGlyphs" stroke="#231f20" stroke-width="0.18">L1CAM</text>
<text x="233.80" y="311.30" font-size="5.1" textLength="17.90" lengthAdjust="spacingAndGlyphs" stroke="#231f20" stroke-width="0.18">CCND1</text>
<text x="247.60" y="304.60" font-size="5.1" textLength="8.70" lengthAdjust="spacingAndGlyphs" stroke="#231f20" stroke-width="0.18">MPL</text>
<text x="262.60" y="314.20" font-size="5.1" textLength="15.00" lengthAdjust="spacingAndGlyphs" stroke="#231f20" stroke-width="0.18">MCM7</text>
<text x="241.30" y="318.30" font-size="5.1" textLength="15.00" lengthAdjust="spacingAndGlyphs" stroke="#231f20" stroke-width="0.18">CD274</text>
<text x="262.60" y="320.00" font-size="5.1" textLength="15.00" lengthAdjust="spacingAndGlyphs" stroke="#231f20" stroke-width="0.18">MCM4</text>
<text x="243.00" y="322.90" font-size="5.1" textLength="13.80" lengthAdjust="spacingAndGlyphs" stroke="#231f20" stroke-width="0.18">MKI67</text>
<text x="262.60" y="324.00" font-size="5.1" textLength="16.20" lengthAdjust="spacingAndGlyphs" stroke="#231f20" stroke-width="0.18">NLRP3</text>
<text x="247.00" y="327.50" font-size="5.1" textLength="9.80" lengthAdjust="spacingAndGlyphs" stroke="#231f20" stroke-width="0.18">BCL2</text>
<text x="247.00" y="338.30" font-size="5.1" textLength="13.80" lengthAdjust="spacingAndGlyphs" stroke="#231f20" stroke-width="0.18">CDK6</text>
<text x="249.60" y="344.10" font-size="5.1" textLength="11.20" lengthAdjust="spacingAndGlyphs" stroke="#231f20" stroke-width="0.18">MYC</text>
<text x="275.20" y="344.10" font-size="5.1" textLength="13.30" lengthAdjust="spacingAndGlyphs" stroke="#231f20" stroke-width="0.18">IL12B</text>
<line x1="259.70" y1="312.40" x2="262.00" y2="312.40" stroke="#555" stroke-width="0.5"/>
<line x1="259.70" y1="318.20" x2="262.00" y2="318.20" stroke="#555" stroke-width="0.5"/>
<line x1="265.50" y1="297.80" x2="263.20" y2="304.80" stroke="#000" stroke-width="0.8"/>
<path d="M262.3,307.8 L261.7,303.9 L264.8,304.9 Z" fill="#000"/>
<circle cx="263.50" cy="337.00" r="0.6" fill="#9a9a9a"/>
<circle cx="263.50" cy="342.80" r="0.6" fill="#9a9a9a"/>
<ellipse cx="234.6" cy="257.3" rx="11.3" ry="6.4" fill="none" stroke="#34608f" stroke-width="1.1"/>
<ellipse cx="243.9" cy="309.2" rx="12.9" ry="4.9" fill="none" stroke="#34608f" stroke-width="1.1"/>
<ellipse cx="255.9" cy="339.1" rx="13.5" ry="7.1" fill="none" stroke="#34608f" stroke-width="1.1"/>
<ellipse cx="286.5" cy="287.3" rx="12.0" ry="5.7" fill="none" stroke="#bf2236" stroke-width="1.1"/>
<ellipse cx="288.3" cy="304.3" rx="14.7" ry="7.0" fill="none" stroke="#bf2236" stroke-width="1.1"/>
<text x="428.80" y="240.40" font-size="8.35" textLength="39.00" lengthAdjust="spacingAndGlyphs" stroke="#231f20" stroke-width="0.12">PD sAML6</text>
<text x="385.00" y="251.10" font-size="8.35" textLength="125.80" lengthAdjust="spacingAndGlyphs" stroke="#231f20" stroke-width="0.12">20 μM tasquinimod, 16 hrs/Control</text>
<line x1="412.00" y1="260.10" x2="414.30" y2="260.10" stroke="#231f20" stroke-width="0.6"/>
<text x="408.10" y="262.10" font-size="5.9" text-anchor="end" textLength="27.92" lengthAdjust="spacingAndGlyphs" stroke="#231f20" stroke-width="0.12">RPS6KA2</text>
<rect x="453.20" y="258.65" width="18.60" height="2.90" fill="#c8102e"/>
<line x1="412.00" y1="265.24" x2="414.30" y2="265.24" stroke="#231f20" stroke-width="0.6"/>
<text x="408.10" y="267.24" font-size="5.9" text-anchor="end" textLength="15.16" lengthAdjust="spacingAndGlyphs" stroke="#231f20" stroke-width="0.12">TLR3</text>
<rect x="453.20" y="263.79" width="11.50" height="2.90" fill="#c8102e"/>
<line x1="412.00" y1="270.38" x2="414.30" y2="270.38" stroke="#231f20" stroke-width="0.6"/>
<text x="408.10" y="272.38" font-size="5.9" text-anchor="end" textLength="20.67" lengthAdjust="spacingAndGlyphs" stroke="#231f20" stroke-width="0.12">DUSP4</text>
<rect x="453.20" y="268.93" width="7.70" height="2.90" fill="#c8102e"/>
<line x1="412.00" y1="275.52" x2="414.30" y2="275.52" stroke="#231f20" stroke-width="0.6"/>
<text x="408.10" y="277.52" font-size="5.9" text-anchor="end" textLength="27.92" lengthAdjust="spacingAndGlyphs" stroke="#231f20" stroke-width="0.12">RPS6KA5</text>
<rect x="453.20" y="274.07" width="6.90" height="2.90" fill="#c8102e"/>
<line x1="412.00" y1="280.66" x2="414.30" y2="280.66" stroke="#231f20" stroke-width="0.6"/>
<text x="408.10" y="282.66" font-size="5.9" text-anchor="end" textLength="24.01" lengthAdjust="spacingAndGlyphs" stroke="#231f20" stroke-width="0.12">MAPK11</text>
<rect x="453.20" y="279.21" width="6.90" height="2.90" fill="#c8102e"/>
<line x1="412.00" y1="285.80" x2="414.30" y2="285.80" stroke="#231f20" stroke-width="0.6"/>
<text x="408.10" y="287.80" font-size="5.9" text-anchor="end" textLength="17.92" lengthAdjust="spacingAndGlyphs" stroke="#231f20" stroke-width="0.12">RIPK1</text>
<rect x="453.20" y="284.35" width="6.50" height="2.90" fill="#c8102e"/>
<line x1="412.00" y1="290.94" x2="414.30" y2="290.94" stroke="#231f20" stroke-width="0.6"/>
<text x="408.10" y="292.94" font-size="5.9" text-anchor="end" textLength="12.06" lengthAdjust="spacingAndGlyphs" stroke="#231f20" stroke-width="0.12">BTK</text>
<rect x="453.20" y="289.49" width="6.50" height="2.90" fill="#c8102e"/>
<line x1="412.00" y1="296.08" x2="414.30" y2="296.08" stroke="#231f20" stroke-width="0.6"/>
<text x="408.10" y="298.08" font-size="5.9" text-anchor="end" textLength="12.06" lengthAdjust="spacingAndGlyphs" stroke="#231f20" stroke-width="0.12">JUN</text>
<rect x="453.20" y="294.63" width="6.10" height="2.90" fill="#c8102e"/>
<line x1="412.00" y1="301.22" x2="414.30" y2="301.22" stroke="#231f20" stroke-width="0.6"/>
<text x="408.10" y="303.22" font-size="5.9" text-anchor="end" textLength="24.47" lengthAdjust="spacingAndGlyphs" stroke="#231f20" stroke-width="0.12">MAPK14</text>
<rect x="448.90" y="299.77" width="4.30" height="2.90" fill="#1c5590"/>
<line x1="412.00" y1="306.36" x2="414.30" y2="306.36" stroke="#231f20" stroke-width="0.6"/>
<text x="408.10" y="308.36" font-size="5.9" text-anchor="end" textLength="17.92" lengthAdjust="spacingAndGlyphs" stroke="#231f20" stroke-width="0.12">IRAK1</text>
<rect x="448.50" y="304.91" width="4.70" height="2.90" fill="#1c5590"/>
<line x1="412.00" y1="311.50" x2="414.30" y2="311.50" stroke="#231f20" stroke-width="0.6"/>
<text x="408.10" y="313.50" font-size="5.9" text-anchor="end" textLength="22.05" lengthAdjust="spacingAndGlyphs" stroke="#231f20" stroke-width="0.12">HMGB1</text>
<rect x="448.20" y="310.05" width="5.00" height="2.90" fill="#1c5590"/>
<line x1="412.00" y1="316.64" x2="414.30" y2="316.64" stroke="#231f20" stroke-width="0.6"/>
<text x="408.10" y="318.64" font-size="5.9" text-anchor="end" textLength="15.16" lengthAdjust="spacingAndGlyphs" stroke="#231f20" stroke-width="0.12">TLR4</text>
<rect x="447.20" y="315.19" width="6.00" height="2.90" fill="#1c5590"/>
<line x1="412.00" y1="321.78" x2="414.30" y2="321.78" stroke="#231f20" stroke-width="0.6"/>
<text x="408.10" y="323.78" font-size="5.9" text-anchor="end" textLength="21.01" lengthAdjust="spacingAndGlyphs" stroke="#231f20" stroke-width="0.12">MEF2C</text>
<rect x="445.60" y="320.33" width="7.60" height="2.90" fill="#1c5590"/>
<line x1="412.00" y1="326.92" x2="414.30" y2="326.92" stroke="#231f20" stroke-width="0.6"/>
<text x="408.10" y="328.92" font-size="5.9" text-anchor="end" textLength="16.54" lengthAdjust="spacingAndGlyphs" stroke="#231f20" stroke-width="0.12">CDK1</text>
<rect x="445.30" y="325.47" width="7.90" height="2.90" fill="#1c5590"/>
<line x1="412.00" y1="332.06" x2="414.30" y2="332.06" stroke="#231f20" stroke-width="0.6"/>
<text x="408.10" y="334.06" font-size="5.9" text-anchor="end" textLength="20.67" lengthAdjust="spacingAndGlyphs" stroke="#231f20" stroke-width="0.12">DUSP2</text>
<rect x="442.40" y="330.61" width="10.80" height="2.90" fill="#1c5590"/>
<line x1="412.00" y1="337.20" x2="414.30" y2="337.20" stroke="#231f20" stroke-width="0.6"/>
<text x="408.10" y="339.20" font-size="5.9" text-anchor="end" textLength="15.85" lengthAdjust="spacingAndGlyphs" stroke="#231f20" stroke-width="0.12">CD14</text>
<rect x="442.40" y="335.75" width="10.80" height="2.90" fill="#1c5590"/>
<line x1="412.00" y1="342.34" x2="414.30" y2="342.34" stroke="#231f20" stroke-width="0.6"/>
<text x="408.10" y="344.34" font-size="5.9" text-anchor="end" textLength="17.23" lengthAdjust="spacingAndGlyphs" stroke="#231f20" stroke-width="0.12">NOD2</text>
<rect x="437.30" y="340.89" width="15.90" height="2.90" fill="#1c5590"/>
<line x1="412.00" y1="347.48" x2="414.30" y2="347.48" stroke="#231f20" stroke-width="0.6"/>
<text x="408.10" y="349.48" font-size="5.9" text-anchor="end" textLength="24.47" lengthAdjust="spacingAndGlyphs" stroke="#231f20" stroke-width="0.12">MAPK10</text>
<rect x="425.30" y="346.03" width="27.90" height="2.90" fill="#1c5590"/>
<line x1="414.30" y1="256.50" x2="414.30" y2="351.20" stroke="#231f20" stroke-width="0.8"/>
<line x1="453.20" y1="256.50" x2="453.20" y2="350.80" stroke="#231f20" stroke-width="0.6"/>
<line x1="413.90" y1="350.80" x2="505.00" y2="350.80" stroke="#231f20" stroke-width="0.8"/>
<line x1="414.30" y1="350.80" x2="414.30" y2="353.00" stroke="#231f20" stroke-width="0.6"/>
<text x="414.30" y="362.90" font-size="6.2" text-anchor="middle" stroke="#231f20" stroke-width="0.12">−1.5</text>
<line x1="427.20" y1="350.80" x2="427.20" y2="353.00" stroke="#231f20" stroke-width="0.6"/>
<text x="427.20" y="362.90" font-size="6.2" text-anchor="middle" stroke="#231f20" stroke-width="0.12">−1.0</text>
<line x1="440.10" y1="350.80" x2="440.10" y2="353.00" stroke="#231f20" stroke-width="0.6"/>
<text x="440.10" y="362.90" font-size="6.2" text-anchor="middle" stroke="#231f20" stroke-width="0.12">−0.5</text>
<line x1="453.00" y1="350.80" x2="453.00" y2="353.00" stroke="#231f20" stroke-width="0.6"/>
<text x="453.00" y="362.90" font-size="6.2" text-anchor="middle" stroke="#231f20" stroke-width="0.12">0.0</text>
<line x1="465.90" y1="350.80" x2="465.90" y2="353.00" stroke="#231f20" stroke-width="0.6"/>
<text x="465.90" y="362.90" font-size="6.2" text-anchor="middle" stroke="#231f20" stroke-width="0.12">0.5</text>
<line x1="478.80" y1="350.80" x2="478.80" y2="353.00" stroke="#231f20" stroke-width="0.6"/>
<text x="478.80" y="362.90" font-size="6.2" text-anchor="middle" stroke="#231f20" stroke-width="0.12">1.0</text>
<text x="446.80" y="374.70" font-size="7.2" text-anchor="middle" textLength="95.60" lengthAdjust="spacingAndGlyphs" stroke="#231f20" stroke-width="0.2">log2 fold-change in mRNA expression</text>
<text x="446.90" y="384.60" font-size="6.8" text-anchor="middle" textLength="25.80" lengthAdjust="spacingAndGlyphs" stroke="#231f20" stroke-width="0.12">(<tspan font-style="italic">P</tspan> &lt; .05)</text>
<text x="374.30" y="300.80" font-size="6.9" text-anchor="middle" font-weight="bold" textLength="33.80" lengthAdjust="spacingAndGlyphs" transform="rotate(-90 374.30 300.80)">TLR4 signaling</text>
<line x1="461.50" y1="307.10" x2="468.30" y2="307.10" stroke="#d04050" stroke-width="0.8"/>
<path d="M458.1,307.1 L462.0,305.6 L462.0,308.6 Z" fill="#c8102e"/>
<line x1="461.50" y1="317.30" x2="468.30" y2="317.30" stroke="#d04050" stroke-width="0.8"/>
<path d="M458.1,317.3 L462.0,315.8 L462.0,318.8 Z" fill="#c8102e"/>
</svg>
</body></html>
